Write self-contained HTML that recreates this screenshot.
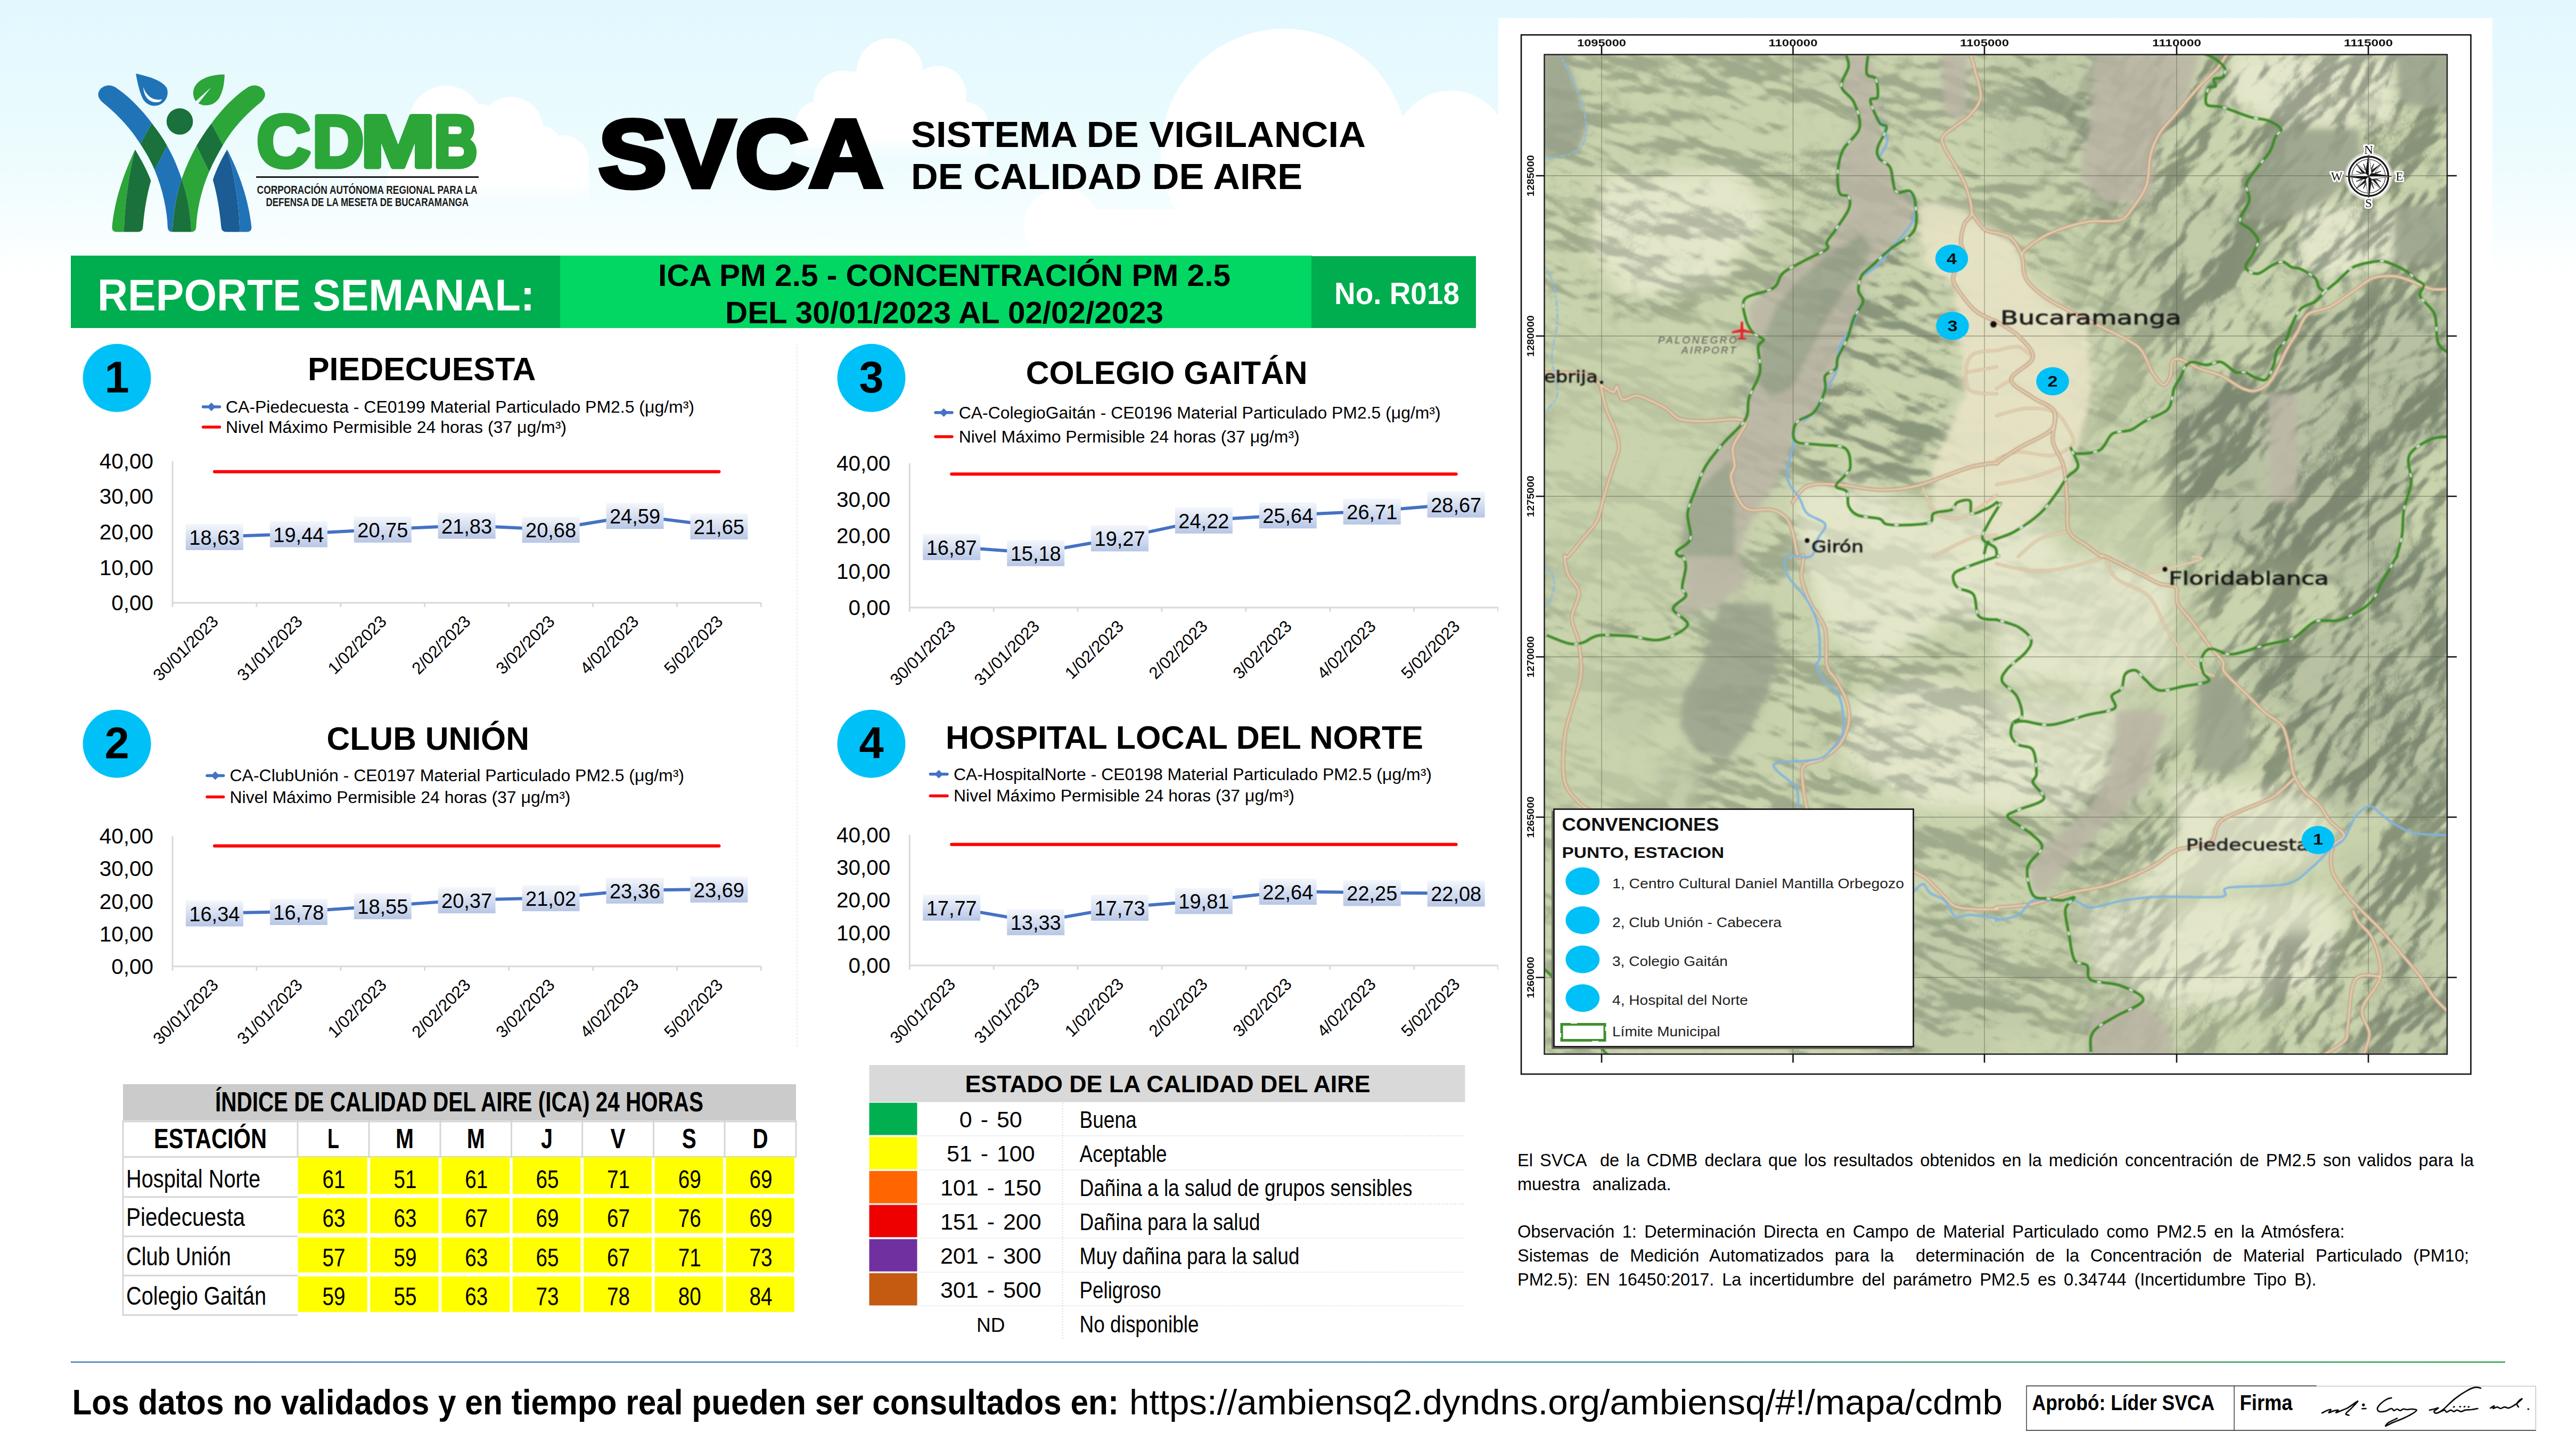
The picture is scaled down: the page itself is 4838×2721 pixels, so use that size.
<!DOCTYPE html>
<html lang="es"><head><meta charset="utf-8"><title>SVCA - Reporte Semanal ICA PM 2.5</title>
<style>
html,body{margin:0;padding:0;background:#fff;}
body{width:4838px;height:2721px;overflow:hidden;}
svg{display:block;font-family:'Liberation Sans', sans-serif;}
</style></head><body>
<svg width="4838" height="2721" viewBox="0 0 4838 2721">
<defs>
<linearGradient id="sky" x1="0" y1="0" x2="0" y2="1"><stop offset="0" stop-color="#e2f8fe"/><stop offset="0.5" stop-color="#ebfbfe"/><stop offset="0.85" stop-color="#f8feff"/><stop offset="1" stop-color="#ffffff"/></linearGradient>
<linearGradient id="cf" x1="0" y1="0" x2="0" y2="1"><stop offset="0" stop-color="#fff" stop-opacity="1"/><stop offset="1" stop-color="#fff" stop-opacity="0"/></linearGradient>
</defs>
<rect x="0" y="0" width="4838" height="520" fill="url(#sky)"/>
<g fill="#fff">
<circle cx="838" cy="231" r="70"/>
<circle cx="960" cy="242" r="60"/>
<circle cx="1057" cy="303" r="49"/>
<circle cx="764" cy="335" r="37"/>
<rect x="727" y="335" width="379" height="12"/><rect x="727" y="346" width="379" height="40" fill="url(#cf)"/>
<polygon points="727,335 764,300 838,231 960,242 1057,256 1106,303 1106,347 727,347"/><circle cx="900" cy="250" r="55"/><circle cx="1010" cy="285" r="50"/>
<circle cx="1671" cy="134" r="62"/>
<circle cx="1582" cy="187" r="54"/>
<circle cx="1761" cy="178" r="54"/>
<circle cx="1537" cy="234" r="44"/>
<circle cx="1814" cy="234" r="42"/>
<rect x="1493" y="232" width="363" height="25"/><rect x="1493" y="256" width="363" height="45" fill="url(#cf)"/>
<rect x="1582" y="134" width="179" height="130"/>
<circle cx="2412" cy="286" r="232"/><circle cx="2725" cy="277" r="107"/><circle cx="1995" cy="425" r="72"/><circle cx="2860" cy="380" r="90"/>
<rect x="1995" y="425" width="420" height="95"/><rect x="2060" y="393" width="360" height="40"/><rect x="2412" y="277" width="500" height="243"/>
</g>
<g transform="translate(100,60) scale(0.3494)">
<path d="M440,632 C380,760 330,900 316,1050 Q316,1075 340,1075 L380,1075 C385,920 405,770 440,632 Z" fill="#2ca539"/>
<path d="M440,632 C405,770 385,920 380,1075 L455,1075 Q480,1075 482,1050 C490,950 505,870 525,800 C505,745 475,690 440,632 Z" fill="#1a713b"/>
<path d="M935,632 C900,690 875,745 858,795 C880,870 895,960 903,1050 Q905,1075 930,1075 L1003,1075 C998,920 975,770 935,632 Z" fill="#1a5c93"/>
<path d="M935,632 C975,770 998,920 1003,1075 L1042,1075 Q1066,1075 1066,1050 C1050,900 1000,760 935,632 Z" fill="#2173b8"/>
<path d="M262,376 C340,440 410,510 468,602 L530,490 C470,410 400,340 330,295 Q290,275 255,305 Q225,340 262,376 Z" fill="#2173b8"/>
<path d="M468,602 C500,650 525,695 545,742 L612,612 C590,570 560,530 530,490 Z" fill="#1a713b"/>
<path d="M545,742 C590,850 612,960 615,1050 Q617,1075 640,1075 C645,980 660,880 690,790 C670,730 645,670 612,612 Z" fill="#2173b8"/>
<path d="M1118,376 C1040,440 970,510 912,608 L850,492 C910,410 980,340 1050,295 Q1090,275 1125,305 Q1155,340 1118,376 Z" fill="#2ca539"/>
<path d="M912,608 C885,655 860,700 838,752 L770,612 C795,570 820,530 850,492 Z" fill="#1a713b"/>
<path d="M838,752 C795,850 772,960 768,1050 Q766,1075 742,1075 C738,980 722,880 690,790 C712,730 738,670 770,612 Z" fill="#2ca539"/>
<path d="M690,790 C660,880 645,980 640,1075 L742,1075 C738,980 722,880 690,790 Z" fill="#1a713b"/>
<circle cx="680" cy="481" r="71" fill="#1a713b"/>
<path d="M444,224 C520,240 585,262 610,300 A68,68 0 1 1 478,352 C462,315 452,270 444,224 Z" fill="#2173b8"/>
<path d="M484,296 C486,335 505,380 560,378 Q580,376 584,362 C540,372 500,345 484,296 Z" fill="#fff"/>
<path d="M921,229 C850,228 780,250 758,300 C748,325 752,352 766,372 L850,296 L780,384 C820,405 870,395 895,350 C915,310 920,270 921,229 Z" fill="#2ca539"/>
</g>
<text x="482.5" y="312.7" font-size="137" font-weight="bold" fill="#2ca539" stroke="#2ca539" stroke-width="9" stroke-linejoin="round" textLength="100.5" lengthAdjust="spacingAndGlyphs">C</text>
<text x="587" y="312.7" font-size="137" font-weight="bold" fill="#2ca539" stroke="#2ca539" stroke-width="9" stroke-linejoin="round" textLength="96" lengthAdjust="spacingAndGlyphs">D</text>
<text x="678" y="312.7" font-size="137" font-weight="bold" fill="#2ca539" stroke="#2ca539" stroke-width="9" stroke-linejoin="round" textLength="139" lengthAdjust="spacingAndGlyphs">M</text>
<text x="815" y="312.7" font-size="137" font-weight="bold" fill="#2ca539" stroke="#2ca539" stroke-width="9" stroke-linejoin="round" textLength="81.5" lengthAdjust="spacingAndGlyphs">B</text>
<rect x="481" y="331" width="418" height="3" fill="#1a1a1a"/>
<text x="482.6" y="364" font-size="22" font-weight="bold" fill="#1a1a1a" textLength="414" lengthAdjust="spacingAndGlyphs">CORPORACIÓN AUTÓNOMA REGIONAL PARA LA</text>
<text x="499.4" y="387" font-size="22" font-weight="bold" fill="#1a1a1a" textLength="380.6" lengthAdjust="spacingAndGlyphs">DEFENSA DE LA MESETA DE BUCARAMANGA</text>
<text x="1124" y="351" font-size="180" font-weight="bold" textLength="534" lengthAdjust="spacingAndGlyphs" stroke="#000" stroke-width="9" stroke-linejoin="miter">SVCA</text>
<text x="1711" y="276" font-size="69" font-weight="bold" textLength="854" lengthAdjust="spacingAndGlyphs">SISTEMA DE VIGILANCIA</text>
<text x="1711" y="355" font-size="69" font-weight="bold" textLength="735" lengthAdjust="spacingAndGlyphs">DE CALIDAD DE AIRE</text>
<rect x="133" y="480" width="920" height="136" fill="#00ad4f"/>
<rect x="1052" y="480" width="1412" height="136" fill="#02d763"/>
<rect x="2463" y="481" width="309" height="135" fill="#00ad4f"/>
<text x="183" y="583" font-size="83" font-weight="bold" fill="#fff" textLength="821" lengthAdjust="spacingAndGlyphs">REPORTE SEMANAL:</text>
<text x="1773.5" y="537" font-size="58" font-weight="bold" text-anchor="middle" textLength="1075" lengthAdjust="spacingAndGlyphs">ICA PM 2.5 - CONCENTRACIÓN PM 2.5</text>
<text x="1773.5" y="607" font-size="58" font-weight="bold" text-anchor="middle" textLength="823" lengthAdjust="spacingAndGlyphs">DEL 30/01/2023 AL 02/02/2023</text>
<text x="2506" y="570.5" font-size="57.5" font-weight="bold" fill="#fff" textLength="235" lengthAdjust="spacingAndGlyphs">No. R018</text>
<defs><linearGradient id="dl" x1="0" y1="0" x2="0" y2="1"><stop offset="0" stop-color="#f4f7fc"/><stop offset="1" stop-color="#b7c6e6"/></linearGradient></defs>
<line x1="1497" y1="645" x2="1497" y2="1965" stroke="#d4d4d4" stroke-width="1" stroke-dasharray="4 3"/>
<circle cx="219.6" cy="709.7" r="64" fill="#00c1f7"/>
<text x="219.6" y="737.2" font-size="83" font-weight="bold" text-anchor="middle">1</text>
<text x="578" y="713.5" font-size="61" font-weight="bold" textLength="428.6" lengthAdjust="spacingAndGlyphs">PIEDECUESTA</text>
<line x1="381.5" y1="764" x2="412.5" y2="764" stroke="#4472c4" stroke-width="5.5" stroke-linecap="round"/>
<path d="M389.0,764 L397.0,756 L405.0,764 L397.0,772 Z" fill="#4472c4"/>
<line x1="381.5" y1="802" x2="412.5" y2="802" stroke="#ff0000" stroke-width="5.5" stroke-linecap="round"/>
<text x="424" y="775" font-size="31" textLength="880" lengthAdjust="spacingAndGlyphs">CA-Piedecuesta - CE0199 Material Particulado PM2.5 (μg/m³)</text>
<text x="424" y="813" font-size="31" textLength="640" lengthAdjust="spacingAndGlyphs">Nivel Máximo Permisible 24 horas (37 μg/m³)</text>
<g stroke="#d9d9d9" stroke-width="3" fill="none">
<path d="M324,865.7 V1140 M322.5,1132 H1429.5"/>
<path d="M481.9,1132 v8 M639.8,1132 v8 M797.7,1132 v8 M955.6,1132 v8 M1113.5,1132 v8 M1271.4,1132 v8 M1429.3,1132 v8 "/>
</g>
<text x="288" y="1146.2" font-size="40.5" text-anchor="end">0,00</text>
<text x="288" y="1079.625" font-size="40.5" text-anchor="end">10,00</text>
<text x="288" y="1013.0500000000001" font-size="40.5" text-anchor="end">20,00</text>
<text x="288" y="946.4750000000001" font-size="40.5" text-anchor="end">30,00</text>
<text x="288" y="879.9000000000001" font-size="40.5" text-anchor="end">40,00</text>
<line x1="402.9" y1="885.7" x2="1350.4" y2="885.7" stroke="#ff0000" stroke-width="6" stroke-linecap="round"/>
<polyline points="402.9,1008.0 560.9,1002.6 718.8,993.9 876.6,986.7 1034.6,994.3 1192.5,968.3 1350.4,987.9" fill="none" stroke="#4472c4" stroke-width="6" stroke-linecap="round" stroke-linejoin="round"/>
<rect x="348.9" y="984.0" width="108" height="49" fill="url(#dl)"/>
<text x="402.9" y="1023.0" font-size="38" text-anchor="middle">18,63</text>
<rect x="506.9" y="978.6" width="108" height="49" fill="url(#dl)"/>
<text x="560.9" y="1017.6" font-size="38" text-anchor="middle">19,44</text>
<rect x="664.8" y="969.9" width="108" height="49" fill="url(#dl)"/>
<text x="718.8" y="1008.9" font-size="38" text-anchor="middle">20,75</text>
<rect x="822.6" y="962.7" width="108" height="49" fill="url(#dl)"/>
<text x="876.6" y="1001.7" font-size="38" text-anchor="middle">21,83</text>
<rect x="980.6" y="970.3" width="108" height="49" fill="url(#dl)"/>
<text x="1034.6" y="1009.3" font-size="38" text-anchor="middle">20,68</text>
<rect x="1138.5" y="944.3" width="108" height="49" fill="url(#dl)"/>
<text x="1192.5" y="983.3" font-size="38" text-anchor="middle">24,59</text>
<rect x="1296.4" y="963.9" width="108" height="49" fill="url(#dl)"/>
<text x="1350.4" y="1002.9" font-size="38" text-anchor="middle">21,65</text>
<text transform="translate(411.9,1169.0) rotate(-45)" font-size="31.5" text-anchor="end">30/01/2023</text>
<text transform="translate(569.9,1169.0) rotate(-45)" font-size="31.5" text-anchor="end">31/01/2023</text>
<text transform="translate(727.8,1169.0) rotate(-45)" font-size="31.5" text-anchor="end">1/02/2023</text>
<text transform="translate(885.6,1169.0) rotate(-45)" font-size="31.5" text-anchor="end">2/02/2023</text>
<text transform="translate(1043.6,1169.0) rotate(-45)" font-size="31.5" text-anchor="end">3/02/2023</text>
<text transform="translate(1201.5,1169.0) rotate(-45)" font-size="31.5" text-anchor="end">4/02/2023</text>
<text transform="translate(1359.4,1169.0) rotate(-45)" font-size="31.5" text-anchor="end">5/02/2023</text>
<circle cx="1636.5" cy="709.7" r="64" fill="#00c1f7"/>
<text x="1636.5" y="737.2" font-size="83" font-weight="bold" text-anchor="middle">3</text>
<text x="1926.8" y="720.5" font-size="61" font-weight="bold" textLength="528.8" lengthAdjust="spacingAndGlyphs">COLEGIO GAITÁN</text>
<line x1="1757" y1="774.8" x2="1788" y2="774.8" stroke="#4472c4" stroke-width="5.5" stroke-linecap="round"/>
<path d="M1764.5,774.8 L1772.5,766.8 L1780.5,774.8 L1772.5,782.8 Z" fill="#4472c4"/>
<line x1="1757" y1="819.9" x2="1788" y2="819.9" stroke="#ff0000" stroke-width="5.5" stroke-linecap="round"/>
<text x="1800.7" y="785.8" font-size="31" textLength="904.9" lengthAdjust="spacingAndGlyphs">CA-ColegioGaitán - CE0196 Material Particulado PM2.5 (μg/m³)</text>
<text x="1800.7" y="830.9" font-size="31" textLength="640" lengthAdjust="spacingAndGlyphs">Nivel Máximo Permisible 24 horas (37 μg/m³)</text>
<g stroke="#d9d9d9" stroke-width="3" fill="none">
<path d="M1708.3,870 V1149 M1706.8,1141 H2813.8"/>
<path d="M1866.2,1141 v8 M2024.1,1141 v8 M2182.0,1141 v8 M2339.9,1141 v8 M2497.8,1141 v8 M2655.7,1141 v8 M2813.6,1141 v8 "/>
</g>
<text x="1672.3" y="1155.2" font-size="40.5" text-anchor="end">0,00</text>
<text x="1672.3" y="1087.45" font-size="40.5" text-anchor="end">10,00</text>
<text x="1672.3" y="1019.7" font-size="40.5" text-anchor="end">20,00</text>
<text x="1672.3" y="951.95" font-size="40.5" text-anchor="end">30,00</text>
<text x="1672.3" y="884.2" font-size="40.5" text-anchor="end">40,00</text>
<line x1="1787.2" y1="890.3" x2="2734.7" y2="890.3" stroke="#ff0000" stroke-width="6" stroke-linecap="round"/>
<polyline points="1787.2,1026.7 1945.2,1038.2 2103.1,1010.4 2260.9,976.9 2418.8,967.3 2576.8,960.0 2734.7,946.8" fill="none" stroke="#4472c4" stroke-width="6" stroke-linecap="round" stroke-linejoin="round"/>
<rect x="1733.2" y="1002.7" width="108" height="49" fill="url(#dl)"/>
<text x="1787.2" y="1041.7" font-size="38" text-anchor="middle">16,87</text>
<rect x="1891.2" y="1014.2" width="108" height="49" fill="url(#dl)"/>
<text x="1945.2" y="1053.2" font-size="38" text-anchor="middle">15,18</text>
<rect x="2049.1" y="986.4" width="108" height="49" fill="url(#dl)"/>
<text x="2103.1" y="1025.4" font-size="38" text-anchor="middle">19,27</text>
<rect x="2206.9" y="952.9" width="108" height="49" fill="url(#dl)"/>
<text x="2260.9" y="991.9" font-size="38" text-anchor="middle">24,22</text>
<rect x="2364.8" y="943.3" width="108" height="49" fill="url(#dl)"/>
<text x="2418.8" y="982.3" font-size="38" text-anchor="middle">25,64</text>
<rect x="2522.8" y="936.0" width="108" height="49" fill="url(#dl)"/>
<text x="2576.8" y="975.0" font-size="38" text-anchor="middle">26,71</text>
<rect x="2680.7" y="922.8" width="108" height="49" fill="url(#dl)"/>
<text x="2734.7" y="961.8" font-size="38" text-anchor="middle">28,67</text>
<text transform="translate(1796.2,1178.0) rotate(-45)" font-size="31.5" text-anchor="end">30/01/2023</text>
<text transform="translate(1954.2,1178.0) rotate(-45)" font-size="31.5" text-anchor="end">31/01/2023</text>
<text transform="translate(2112.1,1178.0) rotate(-45)" font-size="31.5" text-anchor="end">1/02/2023</text>
<text transform="translate(2269.9,1178.0) rotate(-45)" font-size="31.5" text-anchor="end">2/02/2023</text>
<text transform="translate(2427.8,1178.0) rotate(-45)" font-size="31.5" text-anchor="end">3/02/2023</text>
<text transform="translate(2585.8,1178.0) rotate(-45)" font-size="31.5" text-anchor="end">4/02/2023</text>
<text transform="translate(2743.7,1178.0) rotate(-45)" font-size="31.5" text-anchor="end">5/02/2023</text>
<circle cx="219.6" cy="1396.7" r="64" fill="#00c1f7"/>
<text x="219.6" y="1424.2" font-size="83" font-weight="bold" text-anchor="middle">2</text>
<text x="613.6" y="1407.6" font-size="61" font-weight="bold" textLength="380.4" lengthAdjust="spacingAndGlyphs">CLUB UNIÓN</text>
<line x1="389" y1="1456.4" x2="419.6" y2="1456.4" stroke="#4472c4" stroke-width="5.5" stroke-linecap="round"/>
<path d="M396.3,1456.4 L404.3,1448.4 L412.3,1456.4 L404.3,1464.4 Z" fill="#4472c4"/>
<line x1="389" y1="1496.6" x2="419.6" y2="1496.6" stroke="#ff0000" stroke-width="5.5" stroke-linecap="round"/>
<text x="431.5" y="1467.4" font-size="31" textLength="853.5" lengthAdjust="spacingAndGlyphs">CA-ClubUnión - CE0197 Material Particulado PM2.5 (μg/m³)</text>
<text x="431.5" y="1507.6" font-size="31" textLength="640" lengthAdjust="spacingAndGlyphs">Nivel Máximo Permisible 24 horas (37 μg/m³)</text>
<g stroke="#d9d9d9" stroke-width="3" fill="none">
<path d="M324,1570 V1822.7 M322.5,1814.7 H1429.5"/>
<path d="M481.9,1814.7 v8 M639.8,1814.7 v8 M797.7,1814.7 v8 M955.6,1814.7 v8 M1113.5,1814.7 v8 M1271.4,1814.7 v8 M1429.3,1814.7 v8 "/>
</g>
<text x="288" y="1828.9" font-size="40.5" text-anchor="end">0,00</text>
<text x="288" y="1767.7250000000001" font-size="40.5" text-anchor="end">10,00</text>
<text x="288" y="1706.55" font-size="40.5" text-anchor="end">20,00</text>
<text x="288" y="1645.375" font-size="40.5" text-anchor="end">30,00</text>
<text x="288" y="1584.2" font-size="40.5" text-anchor="end">40,00</text>
<line x1="402.9" y1="1588.4" x2="1350.4" y2="1588.4" stroke="#ff0000" stroke-width="6" stroke-linecap="round"/>
<polyline points="402.9,1714.7 560.9,1712.0 718.8,1701.2 876.6,1690.1 1034.6,1686.1 1192.5,1671.8 1350.4,1669.8" fill="none" stroke="#4472c4" stroke-width="6" stroke-linecap="round" stroke-linejoin="round"/>
<rect x="348.9" y="1690.7" width="108" height="49" fill="url(#dl)"/>
<text x="402.9" y="1729.7" font-size="38" text-anchor="middle">16,34</text>
<rect x="506.9" y="1688.0" width="108" height="49" fill="url(#dl)"/>
<text x="560.9" y="1727.0" font-size="38" text-anchor="middle">16,78</text>
<rect x="664.8" y="1677.2" width="108" height="49" fill="url(#dl)"/>
<text x="718.8" y="1716.2" font-size="38" text-anchor="middle">18,55</text>
<rect x="822.6" y="1666.1" width="108" height="49" fill="url(#dl)"/>
<text x="876.6" y="1705.1" font-size="38" text-anchor="middle">20,37</text>
<rect x="980.6" y="1662.1" width="108" height="49" fill="url(#dl)"/>
<text x="1034.6" y="1701.1" font-size="38" text-anchor="middle">21,02</text>
<rect x="1138.5" y="1647.8" width="108" height="49" fill="url(#dl)"/>
<text x="1192.5" y="1686.8" font-size="38" text-anchor="middle">23,36</text>
<rect x="1296.4" y="1645.8" width="108" height="49" fill="url(#dl)"/>
<text x="1350.4" y="1684.8" font-size="38" text-anchor="middle">23,69</text>
<text transform="translate(411.9,1851.7) rotate(-45)" font-size="31.5" text-anchor="end">30/01/2023</text>
<text transform="translate(569.9,1851.7) rotate(-45)" font-size="31.5" text-anchor="end">31/01/2023</text>
<text transform="translate(727.8,1851.7) rotate(-45)" font-size="31.5" text-anchor="end">1/02/2023</text>
<text transform="translate(885.6,1851.7) rotate(-45)" font-size="31.5" text-anchor="end">2/02/2023</text>
<text transform="translate(1043.6,1851.7) rotate(-45)" font-size="31.5" text-anchor="end">3/02/2023</text>
<text transform="translate(1201.5,1851.7) rotate(-45)" font-size="31.5" text-anchor="end">4/02/2023</text>
<text transform="translate(1359.4,1851.7) rotate(-45)" font-size="31.5" text-anchor="end">5/02/2023</text>
<circle cx="1636.5" cy="1396.7" r="64" fill="#00c1f7"/>
<text x="1636.5" y="1424.2" font-size="83" font-weight="bold" text-anchor="middle">4</text>
<text x="1776" y="1406" font-size="61" font-weight="bold" textLength="897" lengthAdjust="spacingAndGlyphs">HOSPITAL LOCAL DEL NORTE</text>
<line x1="1747.4" y1="1453.7" x2="1779" y2="1453.7" stroke="#4472c4" stroke-width="5.5" stroke-linecap="round"/>
<path d="M1755.2,1453.7 L1763.2,1445.7 L1771.2,1453.7 L1763.2,1461.7 Z" fill="#4472c4"/>
<line x1="1747.4" y1="1494.4" x2="1779" y2="1494.4" stroke="#ff0000" stroke-width="5.5" stroke-linecap="round"/>
<text x="1791" y="1464.7" font-size="31" textLength="898" lengthAdjust="spacingAndGlyphs">CA-HospitalNorte - CE0198 Material Particulado PM2.5 (μg/m³)</text>
<text x="1791" y="1505.4" font-size="31" textLength="640" lengthAdjust="spacingAndGlyphs">Nivel Máximo Permisible 24 horas (37 μg/m³)</text>
<g stroke="#d9d9d9" stroke-width="3" fill="none">
<path d="M1708.3,1567.4 V1821 M1706.8,1813 H2813.8"/>
<path d="M1866.2,1813 v8 M2024.1,1813 v8 M2182.0,1813 v8 M2339.9,1813 v8 M2497.8,1813 v8 M2655.7,1813 v8 M2813.6,1813 v8 "/>
</g>
<text x="1672.3" y="1827.2" font-size="40.5" text-anchor="end">0,00</text>
<text x="1672.3" y="1765.8" font-size="40.5" text-anchor="end">10,00</text>
<text x="1672.3" y="1704.4" font-size="40.5" text-anchor="end">20,00</text>
<text x="1672.3" y="1643.0000000000002" font-size="40.5" text-anchor="end">30,00</text>
<text x="1672.3" y="1581.6000000000001" font-size="40.5" text-anchor="end">40,00</text>
<line x1="1787.2" y1="1585.8" x2="2734.7" y2="1585.8" stroke="#ff0000" stroke-width="6" stroke-linecap="round"/>
<polyline points="1787.2,1703.9 1945.2,1731.2 2103.1,1704.1 2260.9,1691.4 2418.8,1674.0 2576.8,1676.4 2734.7,1677.4" fill="none" stroke="#4472c4" stroke-width="6" stroke-linecap="round" stroke-linejoin="round"/>
<rect x="1733.2" y="1679.9" width="108" height="49" fill="url(#dl)"/>
<text x="1787.2" y="1718.9" font-size="38" text-anchor="middle">17,77</text>
<rect x="1891.2" y="1707.2" width="108" height="49" fill="url(#dl)"/>
<text x="1945.2" y="1746.2" font-size="38" text-anchor="middle">13,33</text>
<rect x="2049.1" y="1680.1" width="108" height="49" fill="url(#dl)"/>
<text x="2103.1" y="1719.1" font-size="38" text-anchor="middle">17,73</text>
<rect x="2206.9" y="1667.4" width="108" height="49" fill="url(#dl)"/>
<text x="2260.9" y="1706.4" font-size="38" text-anchor="middle">19,81</text>
<rect x="2364.8" y="1650.0" width="108" height="49" fill="url(#dl)"/>
<text x="2418.8" y="1689.0" font-size="38" text-anchor="middle">22,64</text>
<rect x="2522.8" y="1652.4" width="108" height="49" fill="url(#dl)"/>
<text x="2576.8" y="1691.4" font-size="38" text-anchor="middle">22,25</text>
<rect x="2680.7" y="1653.4" width="108" height="49" fill="url(#dl)"/>
<text x="2734.7" y="1692.4" font-size="38" text-anchor="middle">22,08</text>
<text transform="translate(1796.2,1850.0) rotate(-45)" font-size="31.5" text-anchor="end">30/01/2023</text>
<text transform="translate(1954.2,1850.0) rotate(-45)" font-size="31.5" text-anchor="end">31/01/2023</text>
<text transform="translate(2112.1,1850.0) rotate(-45)" font-size="31.5" text-anchor="end">1/02/2023</text>
<text transform="translate(2269.9,1850.0) rotate(-45)" font-size="31.5" text-anchor="end">2/02/2023</text>
<text transform="translate(2427.8,1850.0) rotate(-45)" font-size="31.5" text-anchor="end">3/02/2023</text>
<text transform="translate(2585.8,1850.0) rotate(-45)" font-size="31.5" text-anchor="end">4/02/2023</text>
<text transform="translate(2743.7,1850.0) rotate(-45)" font-size="31.5" text-anchor="end">5/02/2023</text>
<rect x="231" y="2036" width="1264" height="68" fill="#cbcbcb"/>
<text x="862.5" y="2087" font-size="52" font-weight="bold" text-anchor="middle" textLength="917" lengthAdjust="spacingAndGlyphs">ÍNDICE DE CALIDAD DEL AIRE (ICA) 24 HORAS</text>
<g stroke="#d6d6d6" stroke-width="3" fill="none">
<path d="M231,2106 H1495 M231,2172.5 H1495"/>
<path d="M231,2104 V2172 M559,2104 V2172 M693,2104 V2172 M827,2104 V2172 M960.5,2104 V2172 M1093.7,2104 V2172 M1227.4,2104 V2172 M1361,2104 V2172 M1495,2104 V2172 "/>
<path d="M231,2172 V2470 M231,2247.7 H559 M231,2321.8 H559 M231,2395.2 H559 M229.5,2469.6 H559"/>
</g>
<text x="395" y="2156" font-size="52" font-weight="bold" text-anchor="middle" textLength="212" lengthAdjust="spacingAndGlyphs">ESTACIÓN</text>
<text x="626.0" y="2156" font-size="52" font-weight="bold" text-anchor="middle" textLength="22" lengthAdjust="spacingAndGlyphs">L</text>
<text x="760.0" y="2156" font-size="52" font-weight="bold" text-anchor="middle" textLength="34" lengthAdjust="spacingAndGlyphs">M</text>
<text x="893.75" y="2156" font-size="52" font-weight="bold" text-anchor="middle" textLength="34" lengthAdjust="spacingAndGlyphs">M</text>
<text x="1027.1" y="2156" font-size="52" font-weight="bold" text-anchor="middle" textLength="22" lengthAdjust="spacingAndGlyphs">J</text>
<text x="1160.5500000000002" y="2156" font-size="52" font-weight="bold" text-anchor="middle" textLength="28" lengthAdjust="spacingAndGlyphs">V</text>
<text x="1294.2" y="2156" font-size="52" font-weight="bold" text-anchor="middle" textLength="27" lengthAdjust="spacingAndGlyphs">S</text>
<text x="1428.0" y="2156" font-size="52" font-weight="bold" text-anchor="middle" textLength="29" lengthAdjust="spacingAndGlyphs">D</text>
<text x="237" y="2229.5" font-size="48" textLength="252" lengthAdjust="spacingAndGlyphs">Hospital Norte</text>
<rect x="559.5" y="2172.7" width="130.3" height="69.5" fill="#ffff00"/>
<text x="627.0" y="2231.0" font-size="49" text-anchor="middle" textLength="43" lengthAdjust="spacingAndGlyphs">61</text>
<rect x="695.3" y="2172.7" width="128.5" height="69.5" fill="#ffff00"/>
<text x="761.0" y="2231.0" font-size="49" text-anchor="middle" textLength="43" lengthAdjust="spacingAndGlyphs">51</text>
<rect x="829.3" y="2172.7" width="128.0" height="69.5" fill="#ffff00"/>
<text x="894.75" y="2231.0" font-size="49" text-anchor="middle" textLength="43" lengthAdjust="spacingAndGlyphs">61</text>
<rect x="962.8" y="2172.7" width="127.7" height="69.5" fill="#ffff00"/>
<text x="1028.1" y="2231.0" font-size="49" text-anchor="middle" textLength="43" lengthAdjust="spacingAndGlyphs">65</text>
<rect x="1096.0" y="2172.7" width="128.2" height="69.5" fill="#ffff00"/>
<text x="1161.5500000000002" y="2231.0" font-size="49" text-anchor="middle" textLength="43" lengthAdjust="spacingAndGlyphs">71</text>
<rect x="1229.7" y="2172.7" width="128.1" height="69.5" fill="#ffff00"/>
<text x="1295.2" y="2231.0" font-size="49" text-anchor="middle" textLength="43" lengthAdjust="spacingAndGlyphs">69</text>
<rect x="1363.3" y="2172.7" width="128.5" height="69.5" fill="#ffff00"/>
<text x="1429.0" y="2231.0" font-size="49" text-anchor="middle" textLength="43" lengthAdjust="spacingAndGlyphs">69</text>
<text x="237" y="2302" font-size="48" textLength="223" lengthAdjust="spacingAndGlyphs">Piedecuesta</text>
<rect x="559.5" y="2249.6" width="130.3" height="66" fill="#ffff00"/>
<text x="627.0" y="2303.5" font-size="49" text-anchor="middle" textLength="43" lengthAdjust="spacingAndGlyphs">63</text>
<rect x="695.3" y="2249.6" width="128.5" height="66" fill="#ffff00"/>
<text x="761.0" y="2303.5" font-size="49" text-anchor="middle" textLength="43" lengthAdjust="spacingAndGlyphs">63</text>
<rect x="829.3" y="2249.6" width="128.0" height="66" fill="#ffff00"/>
<text x="894.75" y="2303.5" font-size="49" text-anchor="middle" textLength="43" lengthAdjust="spacingAndGlyphs">67</text>
<rect x="962.8" y="2249.6" width="127.7" height="66" fill="#ffff00"/>
<text x="1028.1" y="2303.5" font-size="49" text-anchor="middle" textLength="43" lengthAdjust="spacingAndGlyphs">69</text>
<rect x="1096.0" y="2249.6" width="128.2" height="66" fill="#ffff00"/>
<text x="1161.5500000000002" y="2303.5" font-size="49" text-anchor="middle" textLength="43" lengthAdjust="spacingAndGlyphs">67</text>
<rect x="1229.7" y="2249.6" width="128.1" height="66" fill="#ffff00"/>
<text x="1295.2" y="2303.5" font-size="49" text-anchor="middle" textLength="43" lengthAdjust="spacingAndGlyphs">76</text>
<rect x="1363.3" y="2249.6" width="128.5" height="66" fill="#ffff00"/>
<text x="1429.0" y="2303.5" font-size="49" text-anchor="middle" textLength="43" lengthAdjust="spacingAndGlyphs">69</text>
<text x="237" y="2376" font-size="48" textLength="197" lengthAdjust="spacingAndGlyphs">Club Unión</text>
<rect x="559.5" y="2323.7" width="130.3" height="65.8" fill="#ffff00"/>
<text x="627.0" y="2377.5" font-size="49" text-anchor="middle" textLength="43" lengthAdjust="spacingAndGlyphs">57</text>
<rect x="695.3" y="2323.7" width="128.5" height="65.8" fill="#ffff00"/>
<text x="761.0" y="2377.5" font-size="49" text-anchor="middle" textLength="43" lengthAdjust="spacingAndGlyphs">59</text>
<rect x="829.3" y="2323.7" width="128.0" height="65.8" fill="#ffff00"/>
<text x="894.75" y="2377.5" font-size="49" text-anchor="middle" textLength="43" lengthAdjust="spacingAndGlyphs">63</text>
<rect x="962.8" y="2323.7" width="127.7" height="65.8" fill="#ffff00"/>
<text x="1028.1" y="2377.5" font-size="49" text-anchor="middle" textLength="43" lengthAdjust="spacingAndGlyphs">65</text>
<rect x="1096.0" y="2323.7" width="128.2" height="65.8" fill="#ffff00"/>
<text x="1161.5500000000002" y="2377.5" font-size="49" text-anchor="middle" textLength="43" lengthAdjust="spacingAndGlyphs">67</text>
<rect x="1229.7" y="2323.7" width="128.1" height="65.8" fill="#ffff00"/>
<text x="1295.2" y="2377.5" font-size="49" text-anchor="middle" textLength="43" lengthAdjust="spacingAndGlyphs">71</text>
<rect x="1363.3" y="2323.7" width="128.5" height="65.8" fill="#ffff00"/>
<text x="1429.0" y="2377.5" font-size="49" text-anchor="middle" textLength="43" lengthAdjust="spacingAndGlyphs">73</text>
<text x="237" y="2449.5" font-size="48" textLength="263" lengthAdjust="spacingAndGlyphs">Colegio Gaitán</text>
<rect x="559.5" y="2397.1" width="130.3" height="66.6" fill="#ffff00"/>
<text x="627.0" y="2451.0" font-size="49" text-anchor="middle" textLength="43" lengthAdjust="spacingAndGlyphs">59</text>
<rect x="695.3" y="2397.1" width="128.5" height="66.6" fill="#ffff00"/>
<text x="761.0" y="2451.0" font-size="49" text-anchor="middle" textLength="43" lengthAdjust="spacingAndGlyphs">55</text>
<rect x="829.3" y="2397.1" width="128.0" height="66.6" fill="#ffff00"/>
<text x="894.75" y="2451.0" font-size="49" text-anchor="middle" textLength="43" lengthAdjust="spacingAndGlyphs">63</text>
<rect x="962.8" y="2397.1" width="127.7" height="66.6" fill="#ffff00"/>
<text x="1028.1" y="2451.0" font-size="49" text-anchor="middle" textLength="43" lengthAdjust="spacingAndGlyphs">73</text>
<rect x="1096.0" y="2397.1" width="128.2" height="66.6" fill="#ffff00"/>
<text x="1161.5500000000002" y="2451.0" font-size="49" text-anchor="middle" textLength="43" lengthAdjust="spacingAndGlyphs">78</text>
<rect x="1229.7" y="2397.1" width="128.1" height="66.6" fill="#ffff00"/>
<text x="1295.2" y="2451.0" font-size="49" text-anchor="middle" textLength="43" lengthAdjust="spacingAndGlyphs">80</text>
<rect x="1363.3" y="2397.1" width="128.5" height="66.6" fill="#ffff00"/>
<text x="1429.0" y="2451.0" font-size="49" text-anchor="middle" textLength="43" lengthAdjust="spacingAndGlyphs">84</text>
<rect x="1632.5" y="2000" width="1119" height="69.5" fill="#d9d9d9"/>
<text x="2193" y="2051" font-size="45" font-weight="bold" text-anchor="middle" textLength="761" lengthAdjust="spacingAndGlyphs">ESTADO DE LA CALIDAD DEL AIRE</text>
<g stroke="#d0d0d0" stroke-width="1.2" stroke-dasharray="2.5 2.5">
<path d="M1996,2071 V2516"/>
<path d="M1632,2132.8 H2751"/>
<path d="M1632,2197 H2751"/>
<path d="M1632,2260.9 H2751"/>
<path d="M1632,2325 H2751"/>
<path d="M1632,2389 H2751"/>
<path d="M1632,2452 H2751"/>
</g>
<rect x="1632.5" y="2070.8" width="90" height="60.5" fill="#00b050"/>
<text x="1860.8" y="2116.8" font-size="43" text-anchor="middle" word-spacing="4">0 - 50</text>
<text x="2027.6" y="2117.8" font-size="43.5" textLength="107" lengthAdjust="spacingAndGlyphs">Buena</text>
<rect x="1632.5" y="2135" width="90" height="60.5" fill="#ffff00"/>
<text x="1860.8" y="2181" font-size="43" text-anchor="middle" word-spacing="4">51 - 100</text>
<text x="2027.6" y="2182" font-size="43.5" textLength="164" lengthAdjust="spacingAndGlyphs">Aceptable</text>
<rect x="1632.5" y="2199" width="90" height="60.5" fill="#ff6600"/>
<text x="1860.8" y="2245" font-size="43" text-anchor="middle" word-spacing="4">101 - 150</text>
<text x="2027.6" y="2246" font-size="43.5" textLength="625" lengthAdjust="spacingAndGlyphs">Dañina a la salud de grupos sensibles</text>
<rect x="1632.5" y="2262.7" width="90" height="60.5" fill="#ee0000"/>
<text x="1860.8" y="2308.7" font-size="43" text-anchor="middle" word-spacing="4">151 - 200</text>
<text x="2027.6" y="2309.7" font-size="43.5" textLength="339" lengthAdjust="spacingAndGlyphs">Dañina para la salud</text>
<rect x="1632.5" y="2327" width="90" height="60.5" fill="#7030a0"/>
<text x="1860.8" y="2373" font-size="43" text-anchor="middle" word-spacing="4">201 - 300</text>
<text x="2027.6" y="2374" font-size="43.5" textLength="413" lengthAdjust="spacingAndGlyphs">Muy dañina para la salud</text>
<rect x="1632.5" y="2390.8" width="90" height="60.5" fill="#c55a11"/>
<text x="1860.8" y="2436.8" font-size="43" text-anchor="middle" word-spacing="4">301 - 500</text>
<text x="2027.6" y="2437.8" font-size="43.5" textLength="153" lengthAdjust="spacingAndGlyphs">Peligroso</text>
<text x="1860.8" y="2501" font-size="37" text-anchor="middle" word-spacing="4">ND</text>
<text x="2027.6" y="2502" font-size="43.5" textLength="224" lengthAdjust="spacingAndGlyphs">No disponible</text>
<text x="2850" y="2189.6" font-size="32.5" word-spacing="4.08" xml:space="preserve">El SVCA  de la CDMB declara que los resultados obtenidos en la medición concentración de PM2.5 son validos para la</text>
<text x="2850" y="2234.6" font-size="32.5" word-spacing="2.48" xml:space="preserve">muestra  analizada.</text>
<text x="2850" y="2324" font-size="32.5" word-spacing="5.29" xml:space="preserve">Observación 1: Determinación Directa en Campo de Material Particulado como PM2.5 en la Atmósfera:</text>
<text x="2850" y="2369" font-size="32.5" word-spacing="11.64" xml:space="preserve">Sistemas de Medición Automatizados para la  determinación de la Concentración de Material Particulado (PM10;</text>
<text x="2850" y="2414" font-size="32.5" word-spacing="5.82" xml:space="preserve">PM2.5): EN 16450:2017. La incertidumbre del parámetro PM2.5 es 0.34744 (Incertidumbre Tipo B).</text>
<defs><linearGradient id="fl" x1="0" y1="0" x2="1" y2="0"><stop offset="0" stop-color="#4f81bd"/><stop offset="0.55" stop-color="#4f8fb0"/><stop offset="1" stop-color="#3aa655"/></linearGradient></defs>
<rect x="133" y="2556.5" width="4572" height="2.6" fill="url(#fl)"/>
<text x="135.4" y="2655.6" font-size="66" font-weight="bold" textLength="1965.6" lengthAdjust="spacingAndGlyphs">Los datos no validados y en tiempo real pueden ser consultados en:</text>
<text x="2121" y="2655.6" font-size="66" textLength="1640" lengthAdjust="spacingAndGlyphs">https://ambiensq2.dyndns.org/ambiensq/#!/mapa/cdmb</text>
<rect x="4350.6" y="2598" width="412" height="88" fill="#fff"/>
<path d="M3806,2686 V2602.5 H4350.6 M4196,2602.5 V2686 M3805,2686 H4763" stroke="#222" stroke-width="1.3" fill="none"/>
<path d="M4350.6,2603 H4762.5 V2686" stroke="#aaa" stroke-width="1" fill="none"/>
<text x="3816.6" y="2648.4" font-size="40" font-weight="bold" textLength="342.4" lengthAdjust="spacingAndGlyphs">Aprobó: Líder SVCA</text>
<text x="4206.6" y="2648.4" font-size="40" font-weight="bold" textLength="99" lengthAdjust="spacingAndGlyphs">Firma</text>
<path d="M4361.1,2653.4 C4362.6,2652.6 4367.1,2650.0 4369.9,2648.9 C4372.6,2647.8 4377.0,2646.3 4377.6,2647.0 C4378.3,2647.6 4373.1,2652.3 4373.8,2652.8 C4374.4,2653.3 4378.6,2650.7 4381.5,2649.9 C4384.4,2649.1 4390.3,2647.4 4391.2,2647.9 C4392.2,2648.4 4386.4,2652.6 4387.3,2652.8 C4388.3,2652.9 4393.5,2650.4 4397.1,2648.9 C4400.6,2647.4 4404.8,2646.2 4408.7,2644.1 C4412.6,2642.0 4417.1,2638.4 4420.3,2636.3 C4423.6,2634.2 4428.8,2630.1 4428.1,2631.4 C4427.5,2632.7 4420.2,2640.2 4416.5,2644.1 C4412.7,2647.9 4406.6,2652.5 4405.8,2654.7 C4405.0,2657.0 4410.6,2657.2 4411.6,2657.6 M4437.2,2638.2 C4437.5,2638.0 4438.3,2636.7 4438.8,2636.7 C4439.3,2636.7 4440.3,2637.7 4440.3,2638.2 C4440.3,2638.7 4439.3,2639.8 4438.8,2639.8 C4438.3,2639.8 4437.5,2638.5 4437.2,2638.2 M4436.5,2645.4 L4443.6,2645.0 M4491.2,2625.0 C4489.7,2625.5 4485.9,2625.7 4482.5,2627.6 C4479.1,2629.4 4473.7,2633.4 4470.8,2636.3 C4467.9,2639.2 4465.3,2642.6 4465.0,2645.0 C4464.7,2647.4 4466.3,2650.0 4468.9,2650.8 C4471.5,2651.7 4477.6,2650.5 4480.5,2649.9 C4483.4,2649.2 4484.4,2647.8 4486.3,2647.0 C4488.3,2646.2 4490.5,2644.7 4492.2,2645.0 C4493.8,2645.3 4494.4,2648.7 4496.0,2648.9 C4497.7,2649.1 4499.9,2646.0 4501.9,2646.0 C4503.8,2646.0 4505.7,2648.9 4507.7,2648.9 C4509.6,2648.9 4511.2,2646.3 4513.5,2646.0 C4515.8,2645.7 4518.7,2647.0 4521.3,2647.0 C4523.9,2647.0 4526.1,2645.8 4529.0,2646.0 C4531.9,2646.2 4538.7,2646.3 4538.7,2647.9 C4538.7,2649.6 4533.2,2653.1 4529.0,2655.7 C4524.8,2658.3 4519.3,2660.9 4513.5,2663.5 C4507.7,2666.1 4499.6,2668.8 4494.1,2671.2 C4488.6,2673.7 4481.8,2678.0 4480.5,2678.0 C4479.2,2678.0 4482.8,2673.7 4486.3,2671.2 C4489.9,2668.8 4499.3,2664.8 4501.9,2663.5 M4563.0,2647.9 C4564.5,2647.6 4569.0,2646.6 4571.7,2646.0 C4574.5,2645.3 4579.5,2643.4 4579.5,2644.1 C4579.5,2644.7 4572.4,2648.3 4571.7,2649.9 C4571.1,2651.5 4573.0,2654.1 4575.6,2653.8 C4578.2,2653.4 4581.4,2652.5 4587.3,2647.9 C4593.1,2643.4 4602.8,2632.7 4610.6,2626.6 C4618.3,2620.4 4627.4,2614.6 4633.9,2611.1 C4640.3,2607.5 4645.2,2605.9 4649.4,2605.2 C4653.6,2604.5 4657.5,2606.5 4659.1,2606.8 M4579.5,2652.8 C4581.4,2652.0 4588.6,2648.1 4591.1,2647.9 C4593.7,2647.8 4593.1,2651.8 4595.0,2651.8 C4597.0,2651.8 4600.5,2648.1 4602.8,2647.9 C4605.1,2647.8 4606.7,2650.8 4608.6,2650.8 C4610.6,2650.8 4612.2,2647.9 4614.4,2647.9 C4616.7,2647.9 4619.6,2650.8 4622.2,2650.8 C4624.8,2650.8 4626.7,2648.6 4630.0,2647.9 C4633.2,2647.3 4637.7,2647.4 4641.6,2647.0 C4645.5,2646.5 4651.3,2645.3 4653.3,2645.0 M4608.2,2642.1 L4609.4,2641.7 M4619.9,2641.7 L4621.0,2641.3 M4628.0,2641.7 L4629.2,2641.3 M4635.8,2642.1 L4637.0,2641.7 M4677.5,2644.1 C4678.7,2643.4 4683.5,2640.0 4684.3,2640.2 C4685.1,2640.3 4681.4,2644.7 4682.4,2645.0 C4683.3,2645.3 4687.9,2642.1 4690.1,2642.1 C4692.4,2642.1 4693.7,2645.0 4696.0,2645.0 C4698.2,2645.0 4701.1,2642.3 4703.7,2642.1 C4706.3,2642.0 4708.3,2644.7 4711.5,2644.1 C4714.7,2643.4 4719.6,2640.5 4723.1,2638.2 C4726.7,2636.0 4730.6,2632.4 4732.8,2630.5 C4735.1,2628.5 4736.9,2626.7 4736.7,2626.6 C4736.6,2626.4 4733.5,2627.9 4731.9,2629.5 C4730.3,2631.1 4727.3,2634.2 4727.0,2636.3 C4726.7,2638.4 4729.4,2641.1 4729.9,2642.1 M4747.8,2646.0 L4749.0,2646.2" fill="none" stroke="#0a0a0a" stroke-width="2.7" stroke-linecap="round" stroke-linejoin="round"/>
<rect x="2814" y="34" width="1867" height="2010" fill="#fff"/>
<defs>
<clipPath id="mapclip"><rect x="2900.5" y="102.5" width="1695.5" height="1877.0"/></clipPath>
<filter id="blur18" x="-5%" y="-5%" width="110%" height="110%"><feGaussianBlur stdDeviation="14"/></filter>
<filter id="hill" x="0" y="0" width="100%" height="100%" color-interpolation-filters="sRGB">
<feTurbulence type="fractalNoise" baseFrequency="0.0042 0.0085" numOctaves="4" seed="11" result="n"/>
<feColorMatrix in="n" type="matrix" values="0 0 0 0 0  0 0 0 0 0  0 0 0 0 0  1.5 0 0 0 -0.25" result="h"/>
<feDiffuseLighting in="h" surfaceScale="58" diffuseConstant="1" lighting-color="#fff" result="l"><feDistantLight azimuth="225" elevation="50"/></feDiffuseLighting>
<feComponentTransfer in="l" result="t"><feFuncR type="table" tableValues="0.69 0.69 0.70 0.73 0.78 0.85 0.91 0.97 1 1 1"/><feFuncG type="table" tableValues="0.71 0.71 0.72 0.75 0.80 0.86 0.92 0.975 1 1 1"/><feFuncB type="table" tableValues="0.71 0.71 0.72 0.75 0.80 0.86 0.92 0.975 1 1 1"/></feComponentTransfer>
<feGaussianBlur in="t" stdDeviation="1.4"/>
</filter>
<filter id="hill2" x="0" y="0" width="100%" height="100%" color-interpolation-filters="sRGB">
<feTurbulence type="fractalNoise" baseFrequency="0.0042 0.0085" numOctaves="4" seed="5" result="n"/>
<feColorMatrix in="n" type="matrix" values="0 0 0 0 0  0 0 0 0 0  0 0 0 0 0  1.5 0 0 0 -0.25" result="h"/>
<feDiffuseLighting in="h" surfaceScale="64" diffuseConstant="1" lighting-color="#fff" result="l"><feDistantLight azimuth="225" elevation="50"/></feDiffuseLighting>
<feComponentTransfer in="l" result="t"><feFuncR type="table" tableValues="0.68 0.68 0.69 0.71 0.75 0.81 0.88 0.95 1 1 1"/><feFuncG type="table" tableValues="0.70 0.70 0.71 0.73 0.77 0.83 0.89 0.955 1 1 1"/><feFuncB type="table" tableValues="0.70 0.70 0.71 0.73 0.77 0.83 0.89 0.955 1 1 1"/></feComponentTransfer>
<feGaussianBlur in="t" stdDeviation="1.4"/>
</filter>
<filter id="blur5" x="-5%" y="-5%" width="110%" height="110%"><feGaussianBlur stdDeviation="5"/></filter>
<filter id="soft" x="-2%" y="-2%" width="104%" height="104%"><feGaussianBlur stdDeviation="0.9"/></filter>
</defs>
<g clip-path="url(#mapclip)">
<rect x="2900.5" y="102.5" width="1695.5" height="1877.0" fill="#c9d3ad"/>
<g filter="url(#blur18)">
<polygon points="3465.1,97.4 3471.9,124.6 3458.3,162.0 3482.1,192.5 3492.3,240.1 3461.7,280.9 3451.5,321.7 3454.9,362.5 3471.9,393.1 3448.1,430.4 3431.1,467.8 3393.8,486.9 3349.6,512.0 3319.0,546.0 3285.0,576.6 3291.8,624.2 3312.2,637.7 3305.4,698.9 3285.0,746.5 3278.2,787.3 3237.4,831.5 3203.4,875.6 3183.1,923.2 3169.5,964.0 3174.9,1011.6 3149.1,1044.9 3161.3,1045.0 3166.1,1119.8 3149.1,1153.8 3230.6,1133.4 3285.0,1085.8 3264.6,1045.0 3271.4,1011.6 3298.6,957.2 3332.6,909.6 3356.4,862.0 3372.0,807.7 3407.4,773.7 3427.7,732.9 3448.1,692.1 3468.5,637.7 3482.1,597.0 3499.1,566.4 3490.3,546.0 3512.7,501.8 3550.1,467.8 3587.5,427.0 3594.3,386.3 3560.3,359.1 3550.1,314.9 3529.7,297.9 3529.7,229.9 3522.9,148.4 3509.3,97.4" fill="#c0c2ac"/>
<polygon points="3495.7,440.6 3448.1,467.8 3380.2,522.2 3336.0,576.6 3305.4,651.3 3298.6,712.5 3325.8,746.5 3366.6,726.1 3393.8,671.7 3427.7,603.8 3461.7,549.4 3495.7,508.6 3512.7,467.8" fill="#b8c2a2"/>
<polygon points="3176.3,930.0 3251.0,862.0 3257.8,943.6 3257.8,1044.9 3152.5,1044.9" fill="#b8c2a2"/>
<polygon points="2897.6,97.4 2938.4,97.4 2965.5,182.3 2979.1,236.7 2965.5,277.5 2897.6,294.5" fill="#b8c2a2"/>
<polygon points="3393.8,97.4 3427.7,97.4 3427.7,168.8 3400.6,175.5" fill="#c2cca9"/>
<polygon points="3645.2,97.4 3692.8,97.4 3692.8,223.1 3652.0,216.3" fill="#c0c2ac"/>
<polygon points="3230.6,1133.4 3325.8,1133.4 3339.4,1214.9 3319.0,1303.3 3285.0,1371.3 3244.2,1425.6 3189.8,1412.0 3155.9,1364.5 3162.7,1303.3 3203.4,1235.3" fill="#b8c2a2"/>
<polygon points="3108.3,1425.6 3203.4,1425.6 3230.6,1480.0 3189.8,1520.8 3108.3,1520.8" fill="#c2cca9"/>
<polygon points="3019.9,1248.9 3135.5,1214.9 3149.1,1316.9 3074.3,1398.4 3006.3,1371.3" fill="#c2cca9"/>
<polygon points="3933.5,97.4 4130.6,97.4 4103.4,195.9 4049.1,263.9 4035.5,379.5 3953.9,379.5 3906.3,331.9 3926.7,229.9" fill="#c0c2ac"/>
<polygon points="4266.6,243.5 4429.7,243.5 4429.7,318.3 4361.7,379.5 4293.8,413.4 4225.8,413.4 4219.0,345.5" fill="#b8c2a2"/>
<polygon points="4497.7,97.4 4603.0,97.4 4603.0,202.7 4511.3,195.9" fill="#b8c2a2"/>
<polygon points="4497.7,386.3 4603.0,386.3 4603.0,495.0 4497.7,495.0" fill="#b8c2a2"/>
<polygon points="3750.0,97.4 3933.5,97.4 3926.7,229.9 3852.0,331.9 3750.0,365.9" fill="#c2cca9"/>
<polygon points="4042.3,386.3 4219.0,345.5 4225.8,467.8 4185.0,576.6 4103.4,671.7 4021.9,644.5 3953.9,576.6 4008.3,467.8" fill="#c2cca9"/>
<polygon points="4089.8,698.9 4266.6,726.1 4334.5,603.8 4429.7,563.0 4603.0,549.4 4603.0,814.5 4524.9,855.2 4511.3,1044.9 4157.8,1044.9 4055.9,807.7" fill="#b8c2a2"/>
<polygon points="4259.8,739.7 4314.2,739.7 4314.2,943.6 4266.6,943.6" fill="#c0c2ac"/>
<polygon points="3974.3,1337.3 4021.9,1333.9 4069.5,1344.1 4049.1,1398.4 4035.5,1466.4 3987.9,1520.8 3940.3,1561.6 3885.9,1622.7 3838.4,1677.1 3818.0,1670.3 3814.6,1629.5 3838.4,1588.8 3913.1,1534.4 3960.7,1452.8 3974.3,1384.8" fill="#c0c2ac"/>
<polygon points="4130.6,1282.9 4171.4,1269.3 4225.8,1330.5 4219.0,1384.8 4225.8,1425.6 4185.0,1452.8 4137.4,1446.0 4117.0,1398.4 4130.6,1344.1" fill="#b8c2a2"/>
<polygon points="4314.2,1045.0 4603.0,1045.0 4603.0,1520.8 4497.7,1534.4 4450.1,1507.2 4402.5,1548.0 4361.7,1493.6 4314.2,1425.6 4293.8,1344.1 4225.8,1282.9 4185.0,1228.5 4307.4,1197.9 4395.7,1163.9 4450.1,1133.4" fill="#b8c2a2"/>
<polygon points="4395.7,1588.8 4603.0,1575.2 4603.0,1986.4 4429.7,1986.4 4456.9,1792.7 4402.5,1690.7" fill="#c2cca9"/>
<polygon points="3926.7,1901.4 4021.9,1881.0 4076.3,1928.6 4069.5,1986.4 3926.7,1986.4" fill="#c0c2ac"/>
<polygon points="3750.0,1847.0 3824.8,1847.0 3838.4,1928.6 3750.0,1949.0" fill="#c2cca9"/>
<polygon points="3597.7,1711.1 3749.9,1738.3 3749.9,1986.4 3597.7,1986.4" fill="#c2cca9"/>
<polygon points="3601.1,386.3 3631.7,379.5 3692.8,399.8 3749.9,440.6 3777.2,454.2 3811.2,535.8 3919.9,603.8 3926.7,739.7 3899.5,848.5 3879.1,902.8 3818.0,970.8 3750.0,1011.6 3699.6,943.6 3631.7,964.0 3631.7,875.6 3692.8,739.7 3672.4,535.8 3618.1,495.0" fill="#e4e1c3"/>
<polygon points="3373.4,916.4 3461.7,909.6 3529.7,923.2 3631.7,970.8 3749.9,957.2 3818.0,970.8 3885.9,1044.9 3953.9,1045.0 4076.3,1085.8 4076.3,1248.9 3974.3,1303.3 3750.0,1269.3 3750.0,1167.3 3665.6,1160.5 3529.7,1248.9 3427.7,1180.9 3387.0,1045.0 3373.4,1044.9" fill="#e3e6c9"/>
<polygon points="3750.0,1303.3 3974.3,1316.9 3960.7,1452.8 3885.9,1534.4 3790.8,1520.8 3750.0,1534.4 3749.9,1520.8 3597.7,1514.0 3461.7,1425.6 3482.1,1316.9 3597.7,1269.3 3749.9,1303.3" fill="#e3e6c9"/>
<polygon points="4076.3,1466.4 4327.7,1480.0 4375.3,1548.0 4348.1,1629.5 4185.0,1670.3 3987.9,1690.7 4035.5,1622.7 4089.8,1588.8" fill="#e3e6c9"/>
<polygon points="3899.5,1711.1 4361.7,1670.3 4402.5,1724.7 4361.7,1860.6 4089.8,1894.6 3926.7,1833.5" fill="#e3e6c9"/>
<polygon points="3006.3,331.9 3257.8,318.3 3325.8,399.8 3230.6,535.8 3053.9,563.0 2985.9,467.8" fill="#e3e6c9"/>
<polygon points="4191.8,97.4 4497.7,97.4 4497.7,236.7 4293.8,236.7 4185.0,195.9" fill="#e3e6c9"/>
<polygon points="4314.2,386.3 4497.7,386.3 4497.7,495.0 4388.9,529.0 4314.2,501.8" fill="#e3e6c9"/>
</g>
<mask id="tmask" maskUnits="userSpaceOnUse" x="2890" y="90" width="1720" height="1900"><rect x="2890" y="90" width="1720" height="1900" fill="#a8a8a8"/><g filter="url(#blur18)">
<polygon points="4073.6,576.6 4603.8,576.6 4603.8,1283.5 4209.5,1283.5 4073.6,1011.6" fill="#fff"/>
<polygon points="3801.7,100.8 4603.8,100.8 4603.8,576.6 3937.6,576.6" fill="#fff"/>
<polygon points="3421.0,399.9 3665.7,399.9 3665.7,902.9 3393.8,902.9" fill="#fff"/>
<polygon points="4209.5,1283.5 4603.8,1283.5 4603.8,1990.5 4277.5,1990.5" fill="#fff"/>
<polygon points="3937.6,1351.5 4155.1,1351.5 4073.6,1623.4 3828.8,1664.2" fill="#fff"/>
<polygon points="3604.5,379.5 3720.1,399.9 3801.7,508.6 3883.2,631.0 3896.8,766.9 3856.0,875.7 3720.1,902.9 3652.1,821.3 3679.3,671.8 3652.1,508.6 3597.7,440.7" fill="#3a3a3a"/>
<polygon points="3366.6,902.9 4073.6,902.9 4114.3,1147.6 3733.7,1147.6 3393.8,1147.6" fill="#3a3a3a"/>
<polygon points="3733.7,1120.4 4141.5,1120.4 4141.5,1419.5 3801.7,1419.5 3720.1,1283.5" fill="#3a3a3a"/>
<polygon points="4073.6,1487.5 4413.4,1487.5 4413.4,1759.4 4073.6,1759.4" fill="#3a3a3a"/>
<polygon points="2900.3,1215.6 3189.9,1215.6 3189.9,1514.7 2900.3,1514.7" fill="#3a3a3a"/>
<polygon points="2900.3,603.8 3257.8,603.8 3257.8,1147.6 2900.3,1147.6" fill="#3a3a3a"/>
</g></mask>
<linearGradient id="gew" gradientUnits="userSpaceOnUse" x1="3820" y1="0" x2="4080" y2="0"><stop offset="0" stop-color="#fff"/><stop offset="1" stop-color="#000"/></linearGradient>
<linearGradient id="gee" gradientUnits="userSpaceOnUse" x1="3820" y1="0" x2="4080" y2="0"><stop offset="0" stop-color="#000"/><stop offset="1" stop-color="#fff"/></linearGradient>
<mask id="mw" maskUnits="userSpaceOnUse" x="2890" y="90" width="1720" height="1900"><rect x="2890" y="90" width="1720" height="1900" fill="url(#gew)"/></mask>
<mask id="me" maskUnits="userSpaceOnUse" x="2890" y="90" width="1720" height="1900"><rect x="2890" y="90" width="1720" height="1900" fill="url(#gee)"/></mask>
<g style="mix-blend-mode:multiply" mask="url(#tmask)">
<g mask="url(#mw)"><rect x="-1300" y="-1300" width="2600" height="2600" filter="url(#hill)" transform="translate(3748,1041) rotate(24)"/></g>
</g>
<g style="mix-blend-mode:multiply" mask="url(#tmask)">
<g mask="url(#me)"><rect x="-1300" y="-1300" width="2600" height="2600" filter="url(#hill2)" transform="translate(3748,1041) rotate(-42)"/></g>
</g>
<g filter="url(#blur5)" opacity="0.8">
<polygon points="3465.1,97.4 3471.9,124.6 3458.3,162.0 3482.1,192.5 3492.3,240.1 3461.7,280.9 3451.5,321.7 3454.9,362.5 3471.9,393.1 3448.1,430.4 3431.1,467.8 3393.8,486.9 3349.6,512.0 3319.0,546.0 3285.0,576.6 3291.8,624.2 3312.2,637.7 3305.4,698.9 3285.0,746.5 3278.2,787.3 3237.4,831.5 3203.4,875.6 3183.1,923.2 3169.5,964.0 3174.9,1011.6 3149.1,1044.9 3161.3,1045.0 3166.1,1119.8 3149.1,1153.8 3230.6,1133.4 3285.0,1085.8 3264.6,1045.0 3271.4,1011.6 3298.6,957.2 3332.6,909.6 3356.4,862.0 3372.0,807.7 3407.4,773.7 3427.7,732.9 3448.1,692.1 3468.5,637.7 3482.1,597.0 3499.1,566.4 3490.3,546.0 3512.7,501.8 3550.1,467.8 3587.5,427.0 3594.3,386.3 3560.3,359.1 3550.1,314.9 3529.7,297.9 3529.7,229.9 3522.9,148.4 3509.3,97.4" fill="#bcb7a5"/>
<polygon points="3495.7,440.6 3448.1,467.8 3380.2,522.2 3336.0,576.6 3305.4,651.3 3298.6,712.5 3325.8,746.5 3366.6,726.1 3393.8,671.7 3427.7,603.8 3461.7,549.4 3495.7,508.6 3512.7,467.8" fill="#9ba38d"/>
<polygon points="3176.3,930.0 3251.0,862.0 3257.8,943.6 3257.8,1044.9 3152.5,1044.9" fill="#9ba38d"/>
<polygon points="2897.6,97.4 2938.4,97.4 2965.5,182.3 2979.1,236.7 2965.5,277.5 2897.6,294.5" fill="#9ba38d"/>
<polygon points="3645.2,97.4 3692.8,97.4 3692.8,223.1 3652.0,216.3" fill="#bcb7a5"/>
<polygon points="3230.6,1133.4 3325.8,1133.4 3339.4,1214.9 3319.0,1303.3 3285.0,1371.3 3244.2,1425.6 3189.8,1412.0 3155.9,1364.5 3162.7,1303.3 3203.4,1235.3" fill="#9ba38d"/>
<polygon points="3933.5,97.4 4130.6,97.4 4103.4,195.9 4049.1,263.9 4035.5,379.5 3953.9,379.5 3906.3,331.9 3926.7,229.9" fill="#bcb7a5"/>
<polygon points="4266.6,243.5 4429.7,243.5 4429.7,318.3 4361.7,379.5 4293.8,413.4 4225.8,413.4 4219.0,345.5" fill="#9ba38d"/>
<polygon points="4497.7,97.4 4603.0,97.4 4603.0,202.7 4511.3,195.9" fill="#9ba38d"/>
<polygon points="4497.7,386.3 4603.0,386.3 4603.0,495.0 4497.7,495.0" fill="#9ba38d"/>
<polygon points="4259.8,739.7 4314.2,739.7 4314.2,943.6 4266.6,943.6" fill="#bcb7a5"/>
<polygon points="3974.3,1337.3 4021.9,1333.9 4069.5,1344.1 4049.1,1398.4 4035.5,1466.4 3987.9,1520.8 3940.3,1561.6 3885.9,1622.7 3838.4,1677.1 3818.0,1670.3 3814.6,1629.5 3838.4,1588.8 3913.1,1534.4 3960.7,1452.8 3974.3,1384.8" fill="#bcb7a5"/>
<polygon points="4130.6,1282.9 4171.4,1269.3 4225.8,1330.5 4219.0,1384.8 4225.8,1425.6 4185.0,1452.8 4137.4,1446.0 4117.0,1398.4 4130.6,1344.1" fill="#9ba38d"/>
<polygon points="3926.7,1901.4 4021.9,1881.0 4076.3,1928.6 4069.5,1986.4 3926.7,1986.4" fill="#bcb7a5"/>
<polygon points="3601.1,386.3 3631.7,379.5 3692.8,399.8 3749.9,440.6 3777.2,454.2 3811.2,535.8 3919.9,603.8 3926.7,739.7 3899.5,848.5 3879.1,902.8 3818.0,970.8 3750.0,1011.6 3699.6,943.6 3631.7,964.0 3631.7,875.6 3692.8,739.7 3672.4,535.8 3618.1,495.0" fill="#e6e3c5"/>
</g>
<g stroke="#5a5f4a" stroke-width="1.3" opacity="0.55">
<line x1="3008" y1="102.5" x2="3008" y2="1979.5"/>
<line x1="3367.5" y1="102.5" x2="3367.5" y2="1979.5"/>
<line x1="3727" y1="102.5" x2="3727" y2="1979.5"/>
<line x1="4088" y1="102.5" x2="4088" y2="1979.5"/>
<line x1="4448" y1="102.5" x2="4448" y2="1979.5"/>
<line x1="2900.5" y1="330" x2="4596" y2="330"/>
<line x1="2900.5" y1="631" x2="4596" y2="631"/>
<line x1="2900.5" y1="932" x2="4596" y2="932"/>
<line x1="2900.5" y1="1233.5" x2="4596" y2="1233.5"/>
<line x1="2900.5" y1="1534.5" x2="4596" y2="1534.5"/>
<line x1="2900.5" y1="1835.5" x2="4596" y2="1835.5"/>
</g>
<g fill="none" stroke-linecap="round" stroke-linejoin="round" filter="url(#soft)">
<path d="M3749.9,658.1 C3742.7,659.2 3715.9,659.2 3706.4,664.9 C3696.9,670.6 3693.9,680.8 3692.8,692.1 C3691.7,703.4 3690.1,725.0 3699.6,732.9 C3709.1,740.8 3741.5,738.6 3749.9,739.7" stroke="#cfae92" stroke-width="5.5" opacity="0.8"/>
<path d="M3696.2,698.9 L3749.9,688.7" stroke="#cfae92" stroke-width="5.5" opacity="0.8"/>
<path d="M3750.0,658.1 C3756.8,657.0 3779.5,649.0 3790.8,651.3 C3802.1,653.6 3813.5,668.3 3818.0,671.7" stroke="#cfae92" stroke-width="5.5" opacity="0.8"/>
<path d="M3750.0,729.5 L3777.2,712.5" stroke="#cfae92" stroke-width="5.5" opacity="0.8"/>
<path d="M3750.0,780.5 C3759.1,778.2 3786.3,768.0 3804.4,766.9 C3822.5,765.8 3845.2,766.9 3858.8,773.7 C3872.4,780.5 3880.2,797.5 3885.9,807.7 C3891.6,817.9 3898.3,827.0 3892.7,834.9 C3887.0,842.8 3869.0,852.9 3852.0,855.2 C3835.0,857.5 3807.8,847.4 3790.8,848.5 C3773.8,849.6 3756.8,859.8 3750.0,862.0" stroke="#cfae92" stroke-width="5.5" opacity="0.8"/>
<path d="M3750.0,909.6 C3761.3,907.3 3797.1,901.7 3818.0,896.0 C3838.9,890.3 3866.1,879.0 3875.7,875.6" stroke="#cfae92" stroke-width="5.5" opacity="0.8"/>
<path d="M3611.3,916.4 C3615.8,924.3 3626.1,954.9 3638.5,964.0 C3650.9,973.1 3667.4,976.5 3686.0,970.8 C3704.6,965.1 3739.2,936.8 3749.9,930.0" stroke="#cfae92" stroke-width="5.5" opacity="0.8"/>
<path d="M3750.0,1058.6 C3761.3,1060.9 3795.3,1071.1 3818.0,1072.2 C3840.7,1073.3 3863.2,1069.9 3885.9,1065.4 C3908.6,1060.9 3942.6,1048.4 3953.9,1045.0" stroke="#cfae92" stroke-width="5.5" opacity="0.8"/>
<path d="M3953.9,1045.0 C3957.3,1051.8 3960.7,1073.3 3974.3,1085.8 C3987.9,1098.3 4019.6,1103.9 4035.5,1119.8 C4051.4,1135.7 4055.9,1159.4 4069.5,1180.9 C4083.1,1202.4 4102.3,1234.2 4117.0,1248.9 C4131.7,1263.6 4151.0,1265.9 4157.8,1269.3" stroke="#cfae92" stroke-width="5.5" opacity="0.8"/>
<path d="M4021.9,1079.0 C4040.0,1074.5 4114.8,1057.5 4130.6,1051.8 C4146.5,1046.1 4119.3,1046.1 4117.0,1045.0" stroke="#cfae92" stroke-width="5.5" opacity="0.8"/>
<path d="M3885.9,998.0 C3876.8,1000.3 3847.4,1003.8 3831.6,1011.6 C3815.8,1019.4 3797.6,1039.4 3790.8,1044.9" stroke="#cfae92" stroke-width="5.5" opacity="0.8"/>
<path d="M3631.7,1044.9 C3643.0,1039.4 3679.9,1018.3 3699.6,1011.6 C3719.3,1004.9 3741.5,1005.9 3749.9,1004.8" stroke="#cfae92" stroke-width="5.5" opacity="0.8"/>
<path d="M3749.9,658.1 C3742.7,659.2 3715.9,659.2 3706.4,664.9 C3696.9,670.6 3693.9,680.8 3692.8,692.1 C3691.7,703.4 3690.1,725.0 3699.6,732.9 C3709.1,740.8 3741.5,738.6 3749.9,739.7" stroke="#e6d9b8" stroke-width="2.5" opacity="0.9"/>
<path d="M3696.2,698.9 L3749.9,688.7" stroke="#e6d9b8" stroke-width="2.5" opacity="0.9"/>
<path d="M3750.0,658.1 C3756.8,657.0 3779.5,649.0 3790.8,651.3 C3802.1,653.6 3813.5,668.3 3818.0,671.7" stroke="#e6d9b8" stroke-width="2.5" opacity="0.9"/>
<path d="M3750.0,729.5 L3777.2,712.5" stroke="#e6d9b8" stroke-width="2.5" opacity="0.9"/>
<path d="M3750.0,780.5 C3759.1,778.2 3786.3,768.0 3804.4,766.9 C3822.5,765.8 3845.2,766.9 3858.8,773.7 C3872.4,780.5 3880.2,797.5 3885.9,807.7 C3891.6,817.9 3898.3,827.0 3892.7,834.9 C3887.0,842.8 3869.0,852.9 3852.0,855.2 C3835.0,857.5 3807.8,847.4 3790.8,848.5 C3773.8,849.6 3756.8,859.8 3750.0,862.0" stroke="#e6d9b8" stroke-width="2.5" opacity="0.9"/>
<path d="M3750.0,909.6 C3761.3,907.3 3797.1,901.7 3818.0,896.0 C3838.9,890.3 3866.1,879.0 3875.7,875.6" stroke="#e6d9b8" stroke-width="2.5" opacity="0.9"/>
<path d="M3611.3,916.4 C3615.8,924.3 3626.1,954.9 3638.5,964.0 C3650.9,973.1 3667.4,976.5 3686.0,970.8 C3704.6,965.1 3739.2,936.8 3749.9,930.0" stroke="#e6d9b8" stroke-width="2.5" opacity="0.9"/>
<path d="M3750.0,1058.6 C3761.3,1060.9 3795.3,1071.1 3818.0,1072.2 C3840.7,1073.3 3863.2,1069.9 3885.9,1065.4 C3908.6,1060.9 3942.6,1048.4 3953.9,1045.0" stroke="#e6d9b8" stroke-width="2.5" opacity="0.9"/>
<path d="M3953.9,1045.0 C3957.3,1051.8 3960.7,1073.3 3974.3,1085.8 C3987.9,1098.3 4019.6,1103.9 4035.5,1119.8 C4051.4,1135.7 4055.9,1159.4 4069.5,1180.9 C4083.1,1202.4 4102.3,1234.2 4117.0,1248.9 C4131.7,1263.6 4151.0,1265.9 4157.8,1269.3" stroke="#e6d9b8" stroke-width="2.5" opacity="0.9"/>
<path d="M4021.9,1079.0 C4040.0,1074.5 4114.8,1057.5 4130.6,1051.8 C4146.5,1046.1 4119.3,1046.1 4117.0,1045.0" stroke="#e6d9b8" stroke-width="2.5" opacity="0.9"/>
<path d="M3885.9,998.0 C3876.8,1000.3 3847.4,1003.8 3831.6,1011.6 C3815.8,1019.4 3797.6,1039.4 3790.8,1044.9" stroke="#e6d9b8" stroke-width="2.5" opacity="0.9"/>
<path d="M3631.7,1044.9 C3643.0,1039.4 3679.9,1018.3 3699.6,1011.6 C3719.3,1004.9 3741.5,1005.9 3749.9,1004.8" stroke="#e6d9b8" stroke-width="2.5" opacity="0.9"/>
<path d="M2897.6,698.9 C2911.2,699.5 2961.0,698.3 2979.1,702.3 C2997.2,706.3 2997.8,717.0 3006.3,722.7 C3014.8,728.4 3025.0,735.7 3030.1,736.3 C3035.2,736.9 3034.1,723.8 3036.9,726.1 C3039.7,728.4 3040.9,747.1 3047.1,749.9 C3053.3,752.7 3065.2,742.5 3074.3,743.1 C3083.4,743.7 3092.4,749.3 3101.5,753.3 C3110.6,757.3 3119.6,761.2 3128.7,766.9 C3137.8,772.6 3143.4,783.3 3155.9,787.3 C3168.4,791.3 3186.4,790.7 3203.4,790.7 C3220.4,790.7 3245.3,786.7 3257.8,787.3 C3270.3,787.9 3276.5,789.6 3278.2,794.1 C3279.9,798.6 3272.0,806.6 3268.0,814.5 C3264.0,822.4 3256.1,831.5 3254.4,841.7 C3252.7,851.9 3258.4,866.6 3257.8,875.6 C3257.2,884.6 3249.9,885.8 3251.0,896.0 C3252.1,906.2 3258.9,926.6 3264.6,936.8 C3270.3,947.0 3274.8,953.8 3285.0,957.2 C3295.2,960.6 3314.5,954.9 3325.8,957.2 C3337.1,959.5 3346.2,964.0 3353.0,970.8 C3359.8,977.6 3362.6,985.6 3366.6,998.0 C3370.6,1010.4 3373.4,1037.1 3376.8,1044.9 C3380.2,1052.7 3385.9,1038.2 3387.0,1045.0 C3388.1,1051.8 3381.3,1071.1 3383.6,1085.8 C3385.9,1100.5 3393.2,1117.6 3400.6,1133.4 C3407.9,1149.2 3422.6,1161.7 3427.7,1180.9 C3432.8,1200.2 3427.7,1233.0 3431.1,1248.9 C3434.5,1264.8 3441.9,1264.8 3448.1,1276.1 C3454.3,1287.4 3464.5,1303.3 3468.5,1316.9 C3472.5,1330.5 3474.2,1344.1 3471.9,1357.7 C3469.6,1371.3 3463.4,1387.1 3454.9,1398.4 C3446.4,1409.7 3432.2,1418.8 3420.9,1425.6 C3409.6,1432.4 3392.7,1430.1 3387.0,1439.2 C3381.3,1448.3 3385.9,1466.4 3387.0,1480.0 C3388.1,1493.6 3392.7,1514.0 3393.8,1520.8" stroke="#c4a086" stroke-width="7.5"/>
<path d="M3006.3,722.7 C3008.0,730.1 3012.0,752.7 3016.5,766.9 C3021.0,781.1 3029.5,795.2 3033.5,807.7 C3037.5,820.2 3040.9,830.4 3040.3,841.7 C3039.7,853.0 3034.6,860.9 3030.1,875.6 C3025.6,890.3 3018.2,913.0 3013.1,930.0 C3008.0,947.0 3006.3,964.0 2999.5,977.6 C2992.7,991.2 2981.4,1000.4 2972.3,1011.6 C2963.2,1022.8 2950.8,1039.3 2945.2,1044.9 C2939.5,1050.5 2938.4,1039.3 2938.4,1045.0 C2938.4,1050.7 2940.7,1067.7 2945.2,1079.0 C2949.7,1090.3 2964.4,1099.4 2965.5,1113.0 C2966.6,1126.6 2952.0,1144.7 2952.0,1160.5 C2952.0,1176.3 2962.7,1190.0 2965.5,1208.1 C2968.3,1226.2 2971.2,1248.9 2968.9,1269.3 C2966.7,1289.7 2957.1,1311.2 2952.0,1330.5 C2946.9,1349.8 2940.7,1362.1 2938.4,1384.8 C2936.1,1407.5 2933.9,1446.0 2938.4,1466.4 C2942.9,1486.8 2957.6,1498.1 2965.5,1507.2 C2973.4,1516.3 2982.5,1518.5 2985.9,1520.8" stroke="#c4a086" stroke-width="7.5"/>
<path d="M3366.6,943.6 C3371.1,938.5 3380.2,918.7 3393.8,913.0 C3407.4,907.3 3425.4,908.5 3448.1,909.6 C3470.8,910.7 3504.8,919.2 3529.7,919.8 C3554.6,920.4 3575.0,918.1 3597.7,913.0 C3620.3,907.9 3647.5,895.4 3665.6,889.2 C3683.7,883.0 3692.3,879.0 3706.4,875.6 C3720.5,872.2 3742.6,869.9 3749.9,868.8 C3757.2,867.7 3743.2,873.3 3750.0,868.8 C3756.8,864.3 3773.8,851.9 3790.8,841.7 C3807.8,831.5 3840.7,819.0 3852.0,807.7 C3863.3,796.4 3857.7,779.4 3858.8,773.7" stroke="#c4a086" stroke-width="7.5"/>
<path d="M3699.6,97.4 C3701.3,103.6 3706.4,120.7 3709.8,134.8 C3713.2,149.0 3721.7,168.7 3720.0,182.3 C3718.3,195.9 3707.5,207.2 3699.6,216.3 C3691.7,225.4 3680.9,229.9 3672.4,236.7 C3663.9,243.5 3652.0,250.3 3648.6,257.1 C3645.2,263.9 3648.0,268.4 3652.0,277.5 C3656.0,286.6 3665.6,299.0 3672.4,311.5 C3679.2,324.0 3687.7,337.6 3692.8,352.3 C3697.9,367.0 3703.6,388.5 3703.0,399.8 C3702.4,411.1 3692.8,411.1 3689.4,420.2 C3686.0,429.3 3682.6,444.0 3682.6,454.2 C3682.6,464.4 3691.1,472.3 3689.4,481.4 C3687.7,490.5 3675.8,500.7 3672.4,508.6 C3669.0,516.5 3666.7,521.1 3669.0,529.0 C3671.3,536.9 3679.2,547.1 3686.0,556.2 C3692.8,565.3 3701.9,576.6 3709.8,583.4 C3717.7,590.2 3726.9,593.6 3733.6,597.0 C3740.3,600.4 3747.2,602.7 3749.9,603.8 C3752.6,604.9 3743.2,599.3 3750.0,603.8 C3756.8,608.3 3779.5,619.6 3790.8,630.9 C3802.1,642.2 3820.3,658.1 3818.0,671.7 C3815.7,685.3 3777.2,700.0 3777.2,712.5 C3777.2,725.0 3804.4,736.3 3818.0,746.5 C3831.6,756.7 3852.6,760.1 3858.8,773.7 C3865.0,787.3 3852.6,811.1 3855.4,828.1 C3858.2,845.1 3871.2,856.4 3875.7,875.6 C3880.2,894.9 3880.8,923.2 3882.5,943.6 C3884.2,964.0 3879.7,984.4 3885.9,998.0 C3892.1,1011.6 3909.7,1017.4 3919.9,1025.2 C3930.1,1033.0 3941.4,1041.6 3947.1,1044.9 C3952.8,1048.2 3941.4,1039.3 3953.9,1045.0 C3966.4,1050.7 4004.9,1070.5 4021.9,1079.0 C4038.9,1087.5 4045.1,1092.0 4055.9,1096.0 C4066.7,1100.0 4080.8,1096.6 4086.5,1102.8 C4092.2,1109.0 4084.7,1122.7 4089.8,1133.4 C4094.9,1144.2 4106.8,1153.7 4117.0,1167.3 C4127.2,1180.9 4141.4,1202.4 4151.0,1214.9 C4160.6,1227.4 4170.3,1234.2 4174.8,1242.1 C4179.3,1250.0 4170.8,1252.3 4178.2,1262.5 C4185.6,1272.7 4206.5,1290.8 4219.0,1303.3 C4231.5,1315.8 4241.7,1327.1 4253.0,1337.3 C4264.3,1347.5 4279.1,1352.0 4287.0,1364.5 C4294.9,1377.0 4297.2,1397.3 4300.6,1412.0 C4304.0,1426.7 4302.9,1440.3 4307.4,1452.8 C4311.9,1465.3 4319.8,1477.2 4327.7,1486.8 C4335.6,1496.4 4347.0,1501.5 4354.9,1510.6 C4362.8,1519.7 4367.4,1531.6 4375.3,1541.2 C4383.2,1550.8 4401.4,1560.5 4402.5,1568.4 C4403.6,1576.3 4386.1,1578.6 4382.1,1588.8 C4378.1,1599.0 4376.4,1617.0 4378.7,1629.5 C4381.0,1642.0 4387.2,1651.0 4395.7,1663.5 C4404.2,1676.0 4417.2,1690.7 4429.7,1704.3 C4442.2,1717.9 4456.9,1730.4 4470.5,1745.1 C4484.1,1759.8 4498.9,1778.0 4511.3,1792.7 C4523.8,1807.4 4535.0,1819.9 4545.2,1833.5 C4555.4,1847.1 4562.8,1862.3 4572.4,1874.2 C4582.0,1886.1 4597.9,1899.7 4603.0,1904.8" stroke="#c4a086" stroke-width="7.5"/>
<path d="M3703.0,399.8 C3707.0,404.9 3719.0,424.2 3726.8,430.4 C3734.6,436.6 3746.0,436.1 3749.9,437.2 C3753.8,438.3 3745.4,435.5 3750.0,437.2 C3754.6,438.9 3769.3,440.0 3777.2,447.4 C3785.1,454.8 3793.1,468.9 3797.6,481.4 C3802.1,493.9 3797.6,509.7 3804.4,522.2 C3811.2,534.7 3824.8,546.0 3838.4,556.2 C3852.0,566.4 3866.7,573.2 3885.9,583.4 C3905.2,593.6 3935.8,608.3 3953.9,617.4 C3972.0,626.5 3983.4,630.9 3994.7,637.7 C4006.0,644.5 4014.0,647.9 4021.9,658.1 C4029.8,668.3 4035.5,688.1 4042.3,698.9 C4049.1,709.7 4057.0,721.6 4062.7,722.7 C4068.4,723.8 4073.5,713.1 4076.3,705.7 C4079.1,698.3 4076.3,683.6 4079.7,678.5 C4083.1,673.4 4088.1,672.8 4096.6,675.1 C4105.1,677.4 4118.1,687.0 4130.6,692.1 C4143.1,697.2 4157.8,699.5 4171.4,705.7 C4185.0,711.9 4200.9,725.0 4212.2,729.5 C4223.5,734.0 4230.3,735.7 4239.4,732.9 C4248.5,730.1 4257.5,725.0 4266.6,712.5 C4275.7,700.0 4285.9,672.8 4293.8,658.1 C4301.7,643.4 4307.4,635.5 4314.2,624.2 C4321.0,612.9 4324.3,598.1 4334.5,590.2 C4344.7,582.3 4361.7,583.4 4375.3,576.6 C4388.9,569.8 4402.5,558.5 4416.1,549.4 C4429.7,540.3 4443.3,527.3 4456.9,522.2 C4470.5,517.1 4485.2,517.7 4497.7,518.8 C4510.2,519.9 4520.4,525.0 4531.7,529.0 C4543.0,533.0 4553.7,540.3 4565.6,542.6 C4577.5,544.9 4596.8,542.6 4603.0,542.6" stroke="#c4a086" stroke-width="7.5"/>
<path d="M4185.0,97.4 C4181.6,102.5 4173.7,117.2 4164.6,128.0 C4155.5,138.8 4143.1,148.4 4130.6,162.0 C4118.1,175.6 4102.2,194.8 4089.8,209.5 C4077.4,224.2 4064.4,236.7 4055.9,250.3 C4047.4,263.9 4042.9,275.2 4038.9,291.1 C4034.9,307.0 4037.2,329.6 4032.1,345.5 C4027.0,361.4 4016.8,375.0 4008.3,386.3 C3999.8,397.6 3995.8,408.3 3981.1,413.4 C3966.4,418.5 3941.4,412.8 3919.9,416.8 C3898.4,420.8 3871.2,428.7 3852.0,437.2 C3832.8,445.7 3813.5,460.4 3804.4,467.8 C3795.3,475.2 3798.7,479.1 3797.6,481.4" stroke="#c4a086" stroke-width="7.5"/>
<path d="M4307.4,1463.0 C4301.7,1468.1 4283.6,1486.2 4273.4,1493.6 C4263.2,1501.0 4263.2,1499.3 4246.2,1507.2 C4229.2,1515.1 4187.3,1528.7 4171.4,1541.2 C4155.5,1553.7 4164.6,1572.9 4151.0,1582.0 C4137.4,1591.1 4106.8,1588.8 4089.8,1595.6 C4072.8,1602.4 4062.7,1614.8 4049.1,1622.7 C4035.5,1630.6 4024.2,1636.3 4008.3,1643.1 C3992.4,1649.9 3974.3,1657.8 3953.9,1663.5 C3933.5,1669.2 3908.6,1671.4 3885.9,1677.1 C3863.2,1682.8 3840.7,1693.0 3818.0,1697.5 C3795.3,1702.0 3761.3,1702.6 3750.0,1704.3 C3738.7,1706.0 3761.7,1707.7 3749.9,1707.7 C3738.1,1707.7 3695.5,1708.3 3679.2,1704.3 C3662.9,1700.3 3662.2,1693.0 3652.0,1683.9 C3641.8,1674.8 3628.3,1658.1 3618.1,1649.9 C3607.9,1641.8 3595.4,1637.5 3590.9,1635.0" stroke="#c4a086" stroke-width="7.5"/>
<path d="M4419.5,1711.1 C4421.2,1714.5 4423.5,1722.4 4429.7,1731.5 C4435.9,1740.6 4450.1,1748.5 4456.9,1765.5 C4463.7,1782.5 4473.9,1812.0 4470.5,1833.5 C4467.1,1855.0 4439.9,1876.5 4436.5,1894.6 C4433.1,1912.7 4450.1,1926.9 4450.1,1942.2 C4450.1,1957.5 4438.8,1979.0 4436.5,1986.4" stroke="#c4a086" stroke-width="7.5"/>
<path d="M4470.5,1833.5 C4462.6,1834.6 4433.1,1824.4 4422.9,1840.2 C4412.7,1856.0 4412.7,1909.3 4409.3,1928.6 C4405.9,1947.9 4411.6,1946.2 4402.5,1955.8 C4393.4,1965.4 4362.8,1981.3 4354.9,1986.4" stroke="#c4a086" stroke-width="7.5"/>
<path d="M2897.6,698.9 C2911.2,699.5 2961.0,698.3 2979.1,702.3 C2997.2,706.3 2997.8,717.0 3006.3,722.7 C3014.8,728.4 3025.0,735.7 3030.1,736.3 C3035.2,736.9 3034.1,723.8 3036.9,726.1 C3039.7,728.4 3040.9,747.1 3047.1,749.9 C3053.3,752.7 3065.2,742.5 3074.3,743.1 C3083.4,743.7 3092.4,749.3 3101.5,753.3 C3110.6,757.3 3119.6,761.2 3128.7,766.9 C3137.8,772.6 3143.4,783.3 3155.9,787.3 C3168.4,791.3 3186.4,790.7 3203.4,790.7 C3220.4,790.7 3245.3,786.7 3257.8,787.3 C3270.3,787.9 3276.5,789.6 3278.2,794.1 C3279.9,798.6 3272.0,806.6 3268.0,814.5 C3264.0,822.4 3256.1,831.5 3254.4,841.7 C3252.7,851.9 3258.4,866.6 3257.8,875.6 C3257.2,884.6 3249.9,885.8 3251.0,896.0 C3252.1,906.2 3258.9,926.6 3264.6,936.8 C3270.3,947.0 3274.8,953.8 3285.0,957.2 C3295.2,960.6 3314.5,954.9 3325.8,957.2 C3337.1,959.5 3346.2,964.0 3353.0,970.8 C3359.8,977.6 3362.6,985.6 3366.6,998.0 C3370.6,1010.4 3373.4,1037.1 3376.8,1044.9 C3380.2,1052.7 3385.9,1038.2 3387.0,1045.0 C3388.1,1051.8 3381.3,1071.1 3383.6,1085.8 C3385.9,1100.5 3393.2,1117.6 3400.6,1133.4 C3407.9,1149.2 3422.6,1161.7 3427.7,1180.9 C3432.8,1200.2 3427.7,1233.0 3431.1,1248.9 C3434.5,1264.8 3441.9,1264.8 3448.1,1276.1 C3454.3,1287.4 3464.5,1303.3 3468.5,1316.9 C3472.5,1330.5 3474.2,1344.1 3471.9,1357.7 C3469.6,1371.3 3463.4,1387.1 3454.9,1398.4 C3446.4,1409.7 3432.2,1418.8 3420.9,1425.6 C3409.6,1432.4 3392.7,1430.1 3387.0,1439.2 C3381.3,1448.3 3385.9,1466.4 3387.0,1480.0 C3388.1,1493.6 3392.7,1514.0 3393.8,1520.8" stroke="#e6d6b4" stroke-width="3"/>
<path d="M3006.3,722.7 C3008.0,730.1 3012.0,752.7 3016.5,766.9 C3021.0,781.1 3029.5,795.2 3033.5,807.7 C3037.5,820.2 3040.9,830.4 3040.3,841.7 C3039.7,853.0 3034.6,860.9 3030.1,875.6 C3025.6,890.3 3018.2,913.0 3013.1,930.0 C3008.0,947.0 3006.3,964.0 2999.5,977.6 C2992.7,991.2 2981.4,1000.4 2972.3,1011.6 C2963.2,1022.8 2950.8,1039.3 2945.2,1044.9 C2939.5,1050.5 2938.4,1039.3 2938.4,1045.0 C2938.4,1050.7 2940.7,1067.7 2945.2,1079.0 C2949.7,1090.3 2964.4,1099.4 2965.5,1113.0 C2966.6,1126.6 2952.0,1144.7 2952.0,1160.5 C2952.0,1176.3 2962.7,1190.0 2965.5,1208.1 C2968.3,1226.2 2971.2,1248.9 2968.9,1269.3 C2966.7,1289.7 2957.1,1311.2 2952.0,1330.5 C2946.9,1349.8 2940.7,1362.1 2938.4,1384.8 C2936.1,1407.5 2933.9,1446.0 2938.4,1466.4 C2942.9,1486.8 2957.6,1498.1 2965.5,1507.2 C2973.4,1516.3 2982.5,1518.5 2985.9,1520.8" stroke="#e6d6b4" stroke-width="3"/>
<path d="M3366.6,943.6 C3371.1,938.5 3380.2,918.7 3393.8,913.0 C3407.4,907.3 3425.4,908.5 3448.1,909.6 C3470.8,910.7 3504.8,919.2 3529.7,919.8 C3554.6,920.4 3575.0,918.1 3597.7,913.0 C3620.3,907.9 3647.5,895.4 3665.6,889.2 C3683.7,883.0 3692.3,879.0 3706.4,875.6 C3720.5,872.2 3742.6,869.9 3749.9,868.8 C3757.2,867.7 3743.2,873.3 3750.0,868.8 C3756.8,864.3 3773.8,851.9 3790.8,841.7 C3807.8,831.5 3840.7,819.0 3852.0,807.7 C3863.3,796.4 3857.7,779.4 3858.8,773.7" stroke="#e6d6b4" stroke-width="3"/>
<path d="M3699.6,97.4 C3701.3,103.6 3706.4,120.7 3709.8,134.8 C3713.2,149.0 3721.7,168.7 3720.0,182.3 C3718.3,195.9 3707.5,207.2 3699.6,216.3 C3691.7,225.4 3680.9,229.9 3672.4,236.7 C3663.9,243.5 3652.0,250.3 3648.6,257.1 C3645.2,263.9 3648.0,268.4 3652.0,277.5 C3656.0,286.6 3665.6,299.0 3672.4,311.5 C3679.2,324.0 3687.7,337.6 3692.8,352.3 C3697.9,367.0 3703.6,388.5 3703.0,399.8 C3702.4,411.1 3692.8,411.1 3689.4,420.2 C3686.0,429.3 3682.6,444.0 3682.6,454.2 C3682.6,464.4 3691.1,472.3 3689.4,481.4 C3687.7,490.5 3675.8,500.7 3672.4,508.6 C3669.0,516.5 3666.7,521.1 3669.0,529.0 C3671.3,536.9 3679.2,547.1 3686.0,556.2 C3692.8,565.3 3701.9,576.6 3709.8,583.4 C3717.7,590.2 3726.9,593.6 3733.6,597.0 C3740.3,600.4 3747.2,602.7 3749.9,603.8 C3752.6,604.9 3743.2,599.3 3750.0,603.8 C3756.8,608.3 3779.5,619.6 3790.8,630.9 C3802.1,642.2 3820.3,658.1 3818.0,671.7 C3815.7,685.3 3777.2,700.0 3777.2,712.5 C3777.2,725.0 3804.4,736.3 3818.0,746.5 C3831.6,756.7 3852.6,760.1 3858.8,773.7 C3865.0,787.3 3852.6,811.1 3855.4,828.1 C3858.2,845.1 3871.2,856.4 3875.7,875.6 C3880.2,894.9 3880.8,923.2 3882.5,943.6 C3884.2,964.0 3879.7,984.4 3885.9,998.0 C3892.1,1011.6 3909.7,1017.4 3919.9,1025.2 C3930.1,1033.0 3941.4,1041.6 3947.1,1044.9 C3952.8,1048.2 3941.4,1039.3 3953.9,1045.0 C3966.4,1050.7 4004.9,1070.5 4021.9,1079.0 C4038.9,1087.5 4045.1,1092.0 4055.9,1096.0 C4066.7,1100.0 4080.8,1096.6 4086.5,1102.8 C4092.2,1109.0 4084.7,1122.7 4089.8,1133.4 C4094.9,1144.2 4106.8,1153.7 4117.0,1167.3 C4127.2,1180.9 4141.4,1202.4 4151.0,1214.9 C4160.6,1227.4 4170.3,1234.2 4174.8,1242.1 C4179.3,1250.0 4170.8,1252.3 4178.2,1262.5 C4185.6,1272.7 4206.5,1290.8 4219.0,1303.3 C4231.5,1315.8 4241.7,1327.1 4253.0,1337.3 C4264.3,1347.5 4279.1,1352.0 4287.0,1364.5 C4294.9,1377.0 4297.2,1397.3 4300.6,1412.0 C4304.0,1426.7 4302.9,1440.3 4307.4,1452.8 C4311.9,1465.3 4319.8,1477.2 4327.7,1486.8 C4335.6,1496.4 4347.0,1501.5 4354.9,1510.6 C4362.8,1519.7 4367.4,1531.6 4375.3,1541.2 C4383.2,1550.8 4401.4,1560.5 4402.5,1568.4 C4403.6,1576.3 4386.1,1578.6 4382.1,1588.8 C4378.1,1599.0 4376.4,1617.0 4378.7,1629.5 C4381.0,1642.0 4387.2,1651.0 4395.7,1663.5 C4404.2,1676.0 4417.2,1690.7 4429.7,1704.3 C4442.2,1717.9 4456.9,1730.4 4470.5,1745.1 C4484.1,1759.8 4498.9,1778.0 4511.3,1792.7 C4523.8,1807.4 4535.0,1819.9 4545.2,1833.5 C4555.4,1847.1 4562.8,1862.3 4572.4,1874.2 C4582.0,1886.1 4597.9,1899.7 4603.0,1904.8" stroke="#e6d6b4" stroke-width="3"/>
<path d="M3703.0,399.8 C3707.0,404.9 3719.0,424.2 3726.8,430.4 C3734.6,436.6 3746.0,436.1 3749.9,437.2 C3753.8,438.3 3745.4,435.5 3750.0,437.2 C3754.6,438.9 3769.3,440.0 3777.2,447.4 C3785.1,454.8 3793.1,468.9 3797.6,481.4 C3802.1,493.9 3797.6,509.7 3804.4,522.2 C3811.2,534.7 3824.8,546.0 3838.4,556.2 C3852.0,566.4 3866.7,573.2 3885.9,583.4 C3905.2,593.6 3935.8,608.3 3953.9,617.4 C3972.0,626.5 3983.4,630.9 3994.7,637.7 C4006.0,644.5 4014.0,647.9 4021.9,658.1 C4029.8,668.3 4035.5,688.1 4042.3,698.9 C4049.1,709.7 4057.0,721.6 4062.7,722.7 C4068.4,723.8 4073.5,713.1 4076.3,705.7 C4079.1,698.3 4076.3,683.6 4079.7,678.5 C4083.1,673.4 4088.1,672.8 4096.6,675.1 C4105.1,677.4 4118.1,687.0 4130.6,692.1 C4143.1,697.2 4157.8,699.5 4171.4,705.7 C4185.0,711.9 4200.9,725.0 4212.2,729.5 C4223.5,734.0 4230.3,735.7 4239.4,732.9 C4248.5,730.1 4257.5,725.0 4266.6,712.5 C4275.7,700.0 4285.9,672.8 4293.8,658.1 C4301.7,643.4 4307.4,635.5 4314.2,624.2 C4321.0,612.9 4324.3,598.1 4334.5,590.2 C4344.7,582.3 4361.7,583.4 4375.3,576.6 C4388.9,569.8 4402.5,558.5 4416.1,549.4 C4429.7,540.3 4443.3,527.3 4456.9,522.2 C4470.5,517.1 4485.2,517.7 4497.7,518.8 C4510.2,519.9 4520.4,525.0 4531.7,529.0 C4543.0,533.0 4553.7,540.3 4565.6,542.6 C4577.5,544.9 4596.8,542.6 4603.0,542.6" stroke="#e6d6b4" stroke-width="3"/>
<path d="M4185.0,97.4 C4181.6,102.5 4173.7,117.2 4164.6,128.0 C4155.5,138.8 4143.1,148.4 4130.6,162.0 C4118.1,175.6 4102.2,194.8 4089.8,209.5 C4077.4,224.2 4064.4,236.7 4055.9,250.3 C4047.4,263.9 4042.9,275.2 4038.9,291.1 C4034.9,307.0 4037.2,329.6 4032.1,345.5 C4027.0,361.4 4016.8,375.0 4008.3,386.3 C3999.8,397.6 3995.8,408.3 3981.1,413.4 C3966.4,418.5 3941.4,412.8 3919.9,416.8 C3898.4,420.8 3871.2,428.7 3852.0,437.2 C3832.8,445.7 3813.5,460.4 3804.4,467.8 C3795.3,475.2 3798.7,479.1 3797.6,481.4" stroke="#e6d6b4" stroke-width="3"/>
<path d="M4307.4,1463.0 C4301.7,1468.1 4283.6,1486.2 4273.4,1493.6 C4263.2,1501.0 4263.2,1499.3 4246.2,1507.2 C4229.2,1515.1 4187.3,1528.7 4171.4,1541.2 C4155.5,1553.7 4164.6,1572.9 4151.0,1582.0 C4137.4,1591.1 4106.8,1588.8 4089.8,1595.6 C4072.8,1602.4 4062.7,1614.8 4049.1,1622.7 C4035.5,1630.6 4024.2,1636.3 4008.3,1643.1 C3992.4,1649.9 3974.3,1657.8 3953.9,1663.5 C3933.5,1669.2 3908.6,1671.4 3885.9,1677.1 C3863.2,1682.8 3840.7,1693.0 3818.0,1697.5 C3795.3,1702.0 3761.3,1702.6 3750.0,1704.3 C3738.7,1706.0 3761.7,1707.7 3749.9,1707.7 C3738.1,1707.7 3695.5,1708.3 3679.2,1704.3 C3662.9,1700.3 3662.2,1693.0 3652.0,1683.9 C3641.8,1674.8 3628.3,1658.1 3618.1,1649.9 C3607.9,1641.8 3595.4,1637.5 3590.9,1635.0" stroke="#e6d6b4" stroke-width="3"/>
<path d="M4419.5,1711.1 C4421.2,1714.5 4423.5,1722.4 4429.7,1731.5 C4435.9,1740.6 4450.1,1748.5 4456.9,1765.5 C4463.7,1782.5 4473.9,1812.0 4470.5,1833.5 C4467.1,1855.0 4439.9,1876.5 4436.5,1894.6 C4433.1,1912.7 4450.1,1926.9 4450.1,1942.2 C4450.1,1957.5 4438.8,1979.0 4436.5,1986.4" stroke="#e6d6b4" stroke-width="3"/>
<path d="M4470.5,1833.5 C4462.6,1834.6 4433.1,1824.4 4422.9,1840.2 C4412.7,1856.0 4412.7,1909.3 4409.3,1928.6 C4405.9,1947.9 4411.6,1946.2 4402.5,1955.8 C4393.4,1965.4 4362.8,1981.3 4354.9,1986.4" stroke="#e6d6b4" stroke-width="3"/>
<path d="M3587.5,359.1 C3589.2,363.6 3597.4,376.1 3597.7,386.3 C3598.0,396.5 3596.3,407.8 3589.5,420.2 C3582.7,432.6 3566.9,448.5 3556.9,461.0 C3546.9,473.5 3538.8,485.9 3529.7,495.0 C3520.6,504.1 3507.0,512.0 3502.5,515.4" stroke="#7fb4df" stroke-width="4"/>
<path d="M3533.1,226.5 C3535.0,232.7 3545.3,252.6 3544.7,263.9 C3544.1,275.2 3532.2,289.4 3529.7,294.5" stroke="#7fb4df" stroke-width="4"/>
<path d="M3492.3,576.6 C3489.5,583.4 3481.5,605.0 3475.3,617.4 C3469.1,629.8 3459.4,637.7 3454.9,651.3 C3450.4,664.9 3452.6,685.3 3448.1,698.9 C3443.6,712.5 3433.3,721.6 3427.7,732.9 C3422.0,744.2 3421.0,757.3 3414.2,766.9 C3407.4,776.5 3391.5,786.7 3387.0,790.7" stroke="#7fb4df" stroke-width="4"/>
<path d="M3370.0,807.7 C3369.4,813.4 3368.9,827.0 3366.6,841.7 C3364.3,856.4 3354.1,880.1 3356.4,896.0 C3358.7,911.9 3374.0,925.5 3380.2,936.8 C3386.4,948.1 3385.9,956.1 3393.8,964.0 C3401.7,971.9 3424.3,976.5 3427.7,984.4 C3431.1,992.3 3418.7,1001.5 3414.2,1011.6 C3409.7,1021.7 3410.2,1039.3 3400.6,1044.9 C3391.0,1050.5 3363.8,1039.3 3356.4,1045.0 C3349.0,1050.7 3350.2,1065.4 3356.4,1079.0 C3362.6,1092.6 3384.2,1110.8 3393.8,1126.6 C3403.4,1142.4 3410.2,1156.0 3414.2,1174.1 C3418.1,1192.2 3418.1,1222.8 3417.5,1235.3 C3416.9,1247.8 3409.7,1242.1 3410.8,1248.9 C3411.9,1255.7 3417.0,1265.9 3424.3,1276.1 C3431.7,1286.3 3448.7,1294.2 3454.9,1310.1 C3461.1,1326.0 3464.0,1355.4 3461.7,1371.3 C3459.4,1387.2 3449.2,1396.2 3441.3,1405.2 C3433.4,1414.2 3431.2,1421.1 3414.2,1425.6 C3397.2,1430.1 3352.4,1429.0 3339.4,1432.4 C3326.4,1435.8 3330.3,1438.1 3336.0,1446.0 C3341.7,1453.9 3366.6,1467.5 3373.4,1480.0 C3380.2,1492.5 3376.2,1514.0 3376.8,1520.8" stroke="#7fb4df" stroke-width="4"/>
<path d="M3590.9,1678.5 C3594.3,1675.4 3605.6,1660.3 3611.3,1660.1 C3617.0,1659.9 3618.1,1672.0 3624.9,1677.1 C3631.7,1682.2 3644.1,1683.3 3652.0,1690.7 C3659.9,1698.1 3664.5,1716.8 3672.4,1721.3 C3680.3,1725.8 3686.7,1717.3 3699.6,1717.9 C3712.5,1718.5 3741.5,1723.0 3749.9,1724.7 C3758.3,1726.4 3743.2,1729.2 3750.0,1728.1 C3756.8,1727.0 3779.5,1724.1 3790.8,1717.9 C3802.1,1711.7 3807.8,1695.2 3818.0,1690.7 C3828.2,1686.2 3839.0,1690.7 3852.0,1690.7 C3865.0,1690.7 3883.7,1688.4 3896.1,1690.7 C3908.5,1693.0 3911.4,1704.3 3926.7,1704.3 C3942.0,1704.3 3966.4,1694.1 3987.9,1690.7 C4009.4,1687.3 4025.3,1685.0 4055.9,1683.9 C4086.5,1682.8 4149.9,1686.7 4171.4,1683.9 C4192.9,1681.1 4164.6,1670.9 4185.0,1666.9 C4205.4,1662.9 4267.8,1666.3 4293.8,1660.1 C4319.9,1653.9 4327.7,1640.2 4341.3,1629.5 C4354.9,1618.8 4365.1,1604.6 4375.3,1595.6 C4385.5,1586.5 4394.6,1585.4 4402.5,1575.2 C4410.4,1565.0 4415.0,1544.6 4422.9,1534.4 C4430.8,1524.2 4442.2,1515.1 4450.1,1514.0 C4458.0,1512.9 4462.6,1521.9 4470.5,1527.6 C4478.4,1533.3 4486.4,1541.8 4497.7,1548.0 C4509.0,1554.2 4520.9,1561.6 4538.5,1565.0 C4556.1,1568.4 4592.2,1567.8 4603.0,1568.4" stroke="#7fb4df" stroke-width="4"/>
<path d="M2928.2,97.4 C2932.2,105.9 2944.1,129.7 2952.0,148.4 C2959.9,167.1 2971.8,190.2 2975.7,209.5 C2979.6,228.8 2979.6,250.9 2975.7,263.9 C2971.8,276.9 2965.0,281.8 2952.0,287.7 C2939.0,293.6 2906.7,297.4 2897.6,299.3" stroke="#86bbe6" stroke-width="3" stroke-dasharray="10 6 3 6"/>
<path d="M2897.6,495.0 C2901.0,501.8 2913.5,517.7 2918.0,535.8 C2922.5,553.9 2925.4,581.1 2924.8,603.8 C2924.2,626.4 2914.6,649.1 2914.6,671.7 C2914.6,694.4 2927.6,722.1 2924.8,739.7 C2922.0,757.3 2902.1,770.9 2897.6,777.1" stroke="#86bbe6" stroke-width="3" stroke-dasharray="10 6 3 6"/>
<path d="M2897.6,1058.6 C2901.0,1063.1 2915.2,1075.6 2918.0,1085.8 C2920.8,1096.0 2918.0,1109.6 2914.6,1119.8 C2911.2,1130.0 2900.4,1142.5 2897.6,1147.0" stroke="#86bbe6" stroke-width="3" stroke-dasharray="10 6 3 6"/>
<path d="M3465.1,97.4 C3466.2,101.9 3473.0,113.8 3471.9,124.6 C3470.8,135.4 3456.6,150.7 3458.3,162.0 C3460.0,173.3 3476.4,179.5 3482.1,192.5 C3487.8,205.5 3495.7,225.4 3492.3,240.1 C3488.9,254.8 3468.5,267.3 3461.7,280.9 C3454.9,294.5 3452.6,308.1 3451.5,321.7 C3450.4,335.3 3451.5,354.6 3454.9,362.5 C3458.3,370.4 3469.1,364.2 3471.9,369.3 C3474.7,374.4 3475.9,382.9 3471.9,393.1 C3467.9,403.3 3454.9,420.2 3448.1,430.4 C3441.3,440.6 3433.9,448.0 3431.1,454.2 C3428.3,460.4 3437.3,462.4 3431.1,467.8 C3424.9,473.2 3407.4,479.5 3393.8,486.9 C3380.2,494.3 3359.2,503.9 3349.6,512.0 C3340.0,520.1 3341.1,530.1 3336.0,535.8 C3330.9,541.5 3328.8,541.7 3319.0,546.0 C3309.2,550.3 3283.7,553.1 3276.9,561.6 C3270.1,570.1 3275.7,586.6 3278.2,597.0 C3280.7,607.4 3286.1,617.4 3291.8,624.2 C3297.5,631.0 3310.5,633.2 3312.2,637.7 C3313.9,642.2 3303.1,641.1 3302.0,651.3 C3300.9,661.5 3308.2,683.0 3305.4,698.9 C3302.6,714.8 3289.5,731.8 3285.0,746.5 C3280.5,761.2 3286.1,773.1 3278.2,787.3 C3270.3,801.5 3249.9,816.8 3237.4,831.5 C3224.9,846.2 3212.5,860.3 3203.4,875.6 C3194.3,890.9 3188.8,908.5 3183.1,923.2 C3177.4,937.9 3170.9,949.3 3169.5,964.0 C3168.1,978.7 3178.3,999.7 3174.9,1011.6 C3171.5,1023.5 3152.5,1029.9 3149.1,1035.4 C3145.7,1041.0 3152.5,1043.3 3154.5,1044.9 C3156.5,1046.5 3159.4,1041.6 3161.3,1045.0 C3163.2,1048.4 3166.4,1055.8 3166.1,1065.4 C3165.8,1075.0 3159.3,1093.7 3159.3,1102.8 C3159.3,1111.9 3168.9,1113.0 3166.1,1119.8 C3163.3,1126.6 3141.7,1134.5 3142.3,1143.6 C3142.9,1152.6 3173.5,1164.5 3169.5,1174.1 C3165.5,1183.7 3136.6,1197.9 3118.5,1201.3 C3100.4,1204.7 3080.0,1195.8 3060.7,1194.5 C3041.4,1193.2 3017.6,1191.2 3002.9,1193.2 C2988.2,1195.2 2981.9,1204.3 2972.3,1206.8 C2962.7,1209.3 2957.6,1210.9 2945.2,1208.1 C2932.8,1205.3 2905.5,1192.8 2897.6,1189.8" stroke="#3c8a27" stroke-width="5"/>
<path d="M3509.3,97.4 C3508.7,104.2 3503.6,129.7 3505.9,138.2 C3508.2,146.7 3519.5,141.1 3522.9,148.4 C3526.3,155.8 3528.0,175.5 3526.3,182.3 C3524.6,189.1 3512.1,181.2 3512.7,189.1 C3513.3,197.0 3524.6,221.4 3529.7,229.9 C3534.8,238.4 3543.9,232.2 3543.3,240.1 C3542.7,248.0 3528.6,267.9 3526.3,277.5 C3524.0,287.1 3525.7,291.7 3529.7,297.9 C3533.7,304.1 3545.0,304.7 3550.1,314.9 C3555.2,325.1 3554.1,351.7 3560.3,359.1 C3566.5,366.5 3581.3,354.6 3587.5,359.1 C3593.7,363.6 3596.6,373.9 3597.7,386.3 C3598.8,398.8 3602.2,420.2 3594.3,433.8 C3586.4,447.4 3563.7,456.5 3550.1,467.8 C3536.5,479.1 3521.8,493.3 3512.7,501.8 C3503.6,510.3 3499.4,511.4 3495.7,518.8 C3492.0,526.2 3489.7,538.1 3490.3,546.0 C3490.9,553.9 3500.5,557.9 3499.1,566.4 C3497.7,574.9 3487.2,585.1 3482.1,597.0 C3477.0,608.9 3473.6,625.2 3468.5,637.7 C3463.4,650.2 3454.9,662.6 3451.5,671.7 C3448.1,680.8 3452.1,686.4 3448.1,692.1 C3444.1,697.8 3431.1,698.9 3427.7,705.7 C3424.3,712.5 3431.1,721.6 3427.7,732.9 C3424.3,744.2 3416.4,763.5 3407.4,773.7 C3398.4,783.9 3379.3,785.0 3373.4,794.1 C3367.5,803.2 3365.2,821.3 3372.0,828.1 C3378.8,834.9 3398.7,832.6 3414.2,834.9 C3429.7,837.2 3454.9,834.9 3465.1,841.7 C3475.3,848.5 3475.3,867.1 3475.3,875.6 C3475.3,884.1 3469.6,886.4 3465.1,892.6 C3460.6,898.8 3447.5,907.9 3448.1,913.0 C3448.7,918.1 3464.5,917.0 3468.5,923.2 C3472.5,929.4 3468.5,943.0 3471.9,950.4 C3475.3,957.8 3479.3,963.4 3488.9,967.4 C3498.5,971.4 3520.6,971.4 3529.7,974.2 C3538.8,977.0 3534.2,982.5 3543.3,984.4 C3552.4,986.3 3570.5,986.4 3584.1,985.8 C3597.7,985.2 3617.0,984.6 3624.9,981.0 C3632.8,977.4 3624.9,968.0 3631.7,964.0 C3638.5,960.0 3658.2,960.6 3665.6,957.2 C3672.9,953.8 3670.1,946.4 3675.8,943.6 C3681.5,940.8 3695.1,936.8 3699.6,940.2 C3704.1,943.6 3698.5,961.2 3703.0,964.0 C3707.5,966.8 3720.6,959.5 3726.8,957.2 C3733.0,954.9 3736.6,952.7 3740.4,950.4 C3744.2,948.1 3748.3,944.7 3749.9,943.6 C3751.5,942.5 3748.8,943.0 3750.0,943.6 C3751.2,944.2 3755.7,946.4 3756.8,947.0" stroke="#3c8a27" stroke-width="5"/>
<path d="M3757.4,945.0 C3753.4,951.6 3739.3,973.3 3733.6,984.4 C3727.9,995.5 3721.1,1004.2 3723.4,1011.6 C3725.7,1019.0 3742.8,1023.0 3747.2,1028.6 C3751.6,1034.1 3749.4,1042.2 3749.9,1044.9 C3750.4,1047.6 3759.4,1041.6 3749.9,1045.0 C3740.4,1048.4 3706.3,1059.7 3692.8,1065.4 C3679.3,1071.1 3671.8,1072.8 3669.0,1079.0 C3666.2,1085.2 3669.6,1096.6 3675.8,1102.8 C3682.0,1109.0 3699.6,1107.3 3706.4,1116.4 C3713.2,1125.5 3709.3,1149.3 3716.6,1157.2 C3723.8,1165.1 3744.3,1162.8 3749.9,1163.9 C3755.5,1165.0 3743.2,1161.6 3750.0,1163.9 C3756.8,1166.2 3780.0,1171.3 3790.8,1177.5 C3801.6,1183.7 3812.3,1193.4 3814.6,1201.3 C3816.9,1209.2 3811.8,1216.0 3804.4,1225.1 C3797.0,1234.2 3777.8,1246.6 3770.4,1255.7 C3763.0,1264.8 3757.4,1271.0 3760.2,1279.5 C3763.0,1288.0 3781.2,1295.9 3787.4,1306.7 C3793.6,1317.5 3798.7,1335.6 3797.6,1344.1 C3796.5,1352.6 3784.0,1351.5 3780.6,1357.7 C3777.2,1363.9 3775.5,1374.7 3777.2,1381.5 C3778.9,1388.3 3784.0,1393.9 3790.8,1398.4 C3797.6,1402.9 3812.3,1399.5 3818.0,1408.6 C3823.7,1417.7 3824.8,1442.6 3824.8,1452.8 C3824.8,1463.0 3815.7,1461.9 3818.0,1469.8 C3820.3,1477.7 3842.9,1491.9 3838.4,1500.4 C3833.9,1508.9 3802.1,1515.4 3790.8,1520.8 C3779.5,1526.2 3769.8,1527.9 3770.4,1533.0 C3771.0,1538.1 3786.3,1545.5 3794.2,1551.4 C3802.1,1557.3 3811.2,1561.6 3818.0,1568.4 C3824.8,1575.2 3836.7,1582.0 3835.0,1592.2 C3833.3,1602.4 3810.6,1614.8 3807.8,1629.5 C3805.0,1644.2 3811.8,1670.9 3818.0,1680.5 C3824.2,1690.1 3836.1,1685.6 3845.2,1687.3 C3854.2,1689.0 3863.8,1691.0 3872.3,1690.7 C3880.8,1690.4 3895.0,1682.5 3896.1,1685.3 C3897.2,1688.1 3880.8,1696.0 3879.1,1707.7 C3877.4,1719.4 3883.1,1739.4 3885.9,1755.3 C3888.7,1771.2 3890.4,1793.3 3896.1,1802.9 C3901.8,1812.5 3914.8,1806.9 3919.9,1813.1 C3925.0,1819.3 3916.5,1834.0 3926.7,1840.2 C3936.9,1846.4 3964.7,1844.2 3981.1,1850.4 C3997.5,1856.6 4026.4,1868.0 4025.3,1877.6 C4024.2,1887.2 3988.5,1899.7 3974.3,1908.2 C3960.1,1916.7 3948.2,1921.8 3940.3,1928.6 C3932.4,1935.4 3928.7,1939.4 3926.7,1949.0 C3924.7,1958.6 3927.9,1980.2 3928.1,1986.4" stroke="#3c8a27" stroke-width="5"/>
<path d="M4130.6,97.4 C4135.1,99.3 4149.9,103.8 4157.8,108.9 C4165.7,114.0 4175.4,122.0 4178.2,128.0 C4181.0,134.0 4178.2,141.6 4174.8,145.0 C4171.4,148.4 4160.1,145.6 4157.8,148.4 C4155.5,151.2 4162.9,159.2 4161.2,162.0 C4159.5,164.8 4150.4,159.8 4147.6,165.4 C4144.8,171.1 4139.7,189.9 4144.2,195.9 C4148.7,201.9 4161.2,197.4 4174.8,201.4 C4188.4,205.4 4211.6,215.5 4225.8,219.7 C4240.0,223.9 4250.2,222.8 4259.8,226.5 C4269.4,230.2 4281.3,237.1 4283.6,242.2 C4285.9,247.3 4276.8,250.1 4273.4,257.1 C4270.0,264.1 4268.9,274.7 4263.2,284.3 C4257.5,293.9 4246.8,304.7 4239.4,314.9 C4232.0,325.1 4221.5,335.3 4219.0,345.5 C4216.5,355.7 4226.4,364.8 4224.4,376.1 C4222.4,387.4 4206.6,404.3 4206.8,413.4 C4207.0,422.4 4220.2,424.2 4225.8,430.4 C4231.4,436.6 4239.6,443.4 4240.7,450.8 C4241.8,458.2 4236.5,466.1 4232.6,474.6 C4228.8,483.1 4216.5,495.2 4217.6,501.8 C4218.7,508.4 4231.2,514.6 4239.4,514.0 C4247.6,513.4 4258.7,502.1 4266.6,498.4 C4274.5,494.7 4280.8,491.0 4287.0,491.6 C4293.2,492.2 4298.4,499.5 4304.0,501.8 C4309.6,504.1 4313.5,501.8 4320.9,505.2 C4328.2,508.6 4342.4,516.5 4348.1,522.2 C4353.8,527.9 4352.1,534.9 4354.9,539.2 C4357.7,543.5 4363.4,546.5 4365.1,548.0" stroke="#3c8a27" stroke-width="5"/>
<path d="M4365.1,548.0 C4369.1,544.8 4379.8,536.7 4388.9,529.0 C4398.0,521.3 4408.2,508.0 4419.5,501.8 C4430.8,495.6 4446.7,493.3 4456.9,491.6 C4467.1,489.9 4470.5,488.8 4480.7,491.6 C4490.9,494.4 4508.5,502.9 4518.1,508.6 C4527.7,514.3 4532.9,521.1 4538.5,525.6 C4544.1,530.1 4550.9,530.7 4552.0,535.8 C4553.1,540.9 4541.8,547.1 4545.2,556.2 C4548.6,565.3 4566.7,575.5 4572.4,590.2 C4578.1,604.9 4574.1,632.0 4579.2,644.5 C4584.3,657.0 4599.0,661.5 4603.0,664.9" stroke="#3c8a27" stroke-width="5"/>
<path d="M4365.1,548.0 C4362.3,551.1 4355.5,561.1 4348.1,566.4 C4340.7,571.7 4328.2,572.6 4320.9,580.0 C4313.5,587.4 4308.5,601.0 4304.0,610.6 C4299.5,620.2 4298.3,629.8 4293.8,637.7 C4289.3,645.6 4280.8,650.2 4276.8,658.1 C4272.8,666.0 4273.4,676.2 4270.0,685.3 C4266.6,694.4 4262.1,708.5 4256.4,712.5 C4250.7,716.5 4242.8,711.4 4236.0,709.1 C4229.2,706.8 4221.8,700.6 4215.6,698.9 C4209.4,697.2 4206.0,702.1 4198.6,698.9 C4191.2,695.7 4180.5,682.2 4171.4,679.9 C4162.3,677.6 4153.3,685.3 4144.2,685.3 C4135.1,685.3 4123.8,679.3 4117.0,679.9 C4110.2,680.5 4106.8,684.4 4103.4,688.7 C4100.0,693.0 4100.0,698.9 4096.6,705.7 C4093.2,712.5 4085.9,722.7 4083.1,729.5 C4080.3,736.3 4082.0,739.7 4079.7,746.5 C4077.4,753.3 4078.0,762.9 4069.5,770.3 C4061.0,777.7 4040.0,784.5 4028.7,790.7 C4017.4,796.9 4011.7,803.7 4001.5,807.7 C3991.3,811.7 3977.1,808.3 3967.5,814.5 C3957.9,820.7 3955.0,838.9 3943.7,845.1 C3932.4,851.3 3908.6,852.5 3899.5,851.9 C3890.4,851.3 3888.7,837.8 3889.3,841.7 C3889.9,845.7 3904.0,866.6 3902.9,875.6 C3901.8,884.6 3889.3,887.5 3882.5,896.0 C3875.7,904.5 3870.7,915.3 3862.2,926.6 C3853.7,937.9 3844.6,952.1 3831.6,964.0 C3818.6,975.9 3797.6,990.1 3784.0,998.0 C3770.4,1005.9 3758.4,1008.2 3750.0,1011.6 C3741.6,1015.0 3737.5,1013.9 3733.6,1018.4 C3729.7,1022.9 3727.9,1035.4 3726.8,1038.8" stroke="#3c8a27" stroke-width="5"/>
<path d="M4603.0,819.9 C4596.8,820.7 4578.6,818.8 4565.6,824.7 C4552.6,830.6 4531.1,841.6 4524.9,855.2 C4518.7,868.8 4530.0,889.2 4528.3,906.2 C4526.6,923.2 4517.5,940.8 4514.7,957.2 C4511.9,973.6 4513.6,990.2 4511.3,1004.8 C4509.0,1019.4 4502.8,1038.2 4501.1,1044.9 C4499.4,1051.6 4505.6,1037.0 4501.1,1045.0 C4496.6,1053.0 4482.4,1077.9 4473.9,1092.6 C4465.4,1107.3 4463.1,1121.5 4450.1,1133.4 C4437.1,1145.3 4412.7,1158.2 4395.7,1163.9 C4378.7,1169.6 4362.8,1161.6 4348.1,1167.3 C4333.4,1173.0 4323.2,1190.5 4307.4,1197.9 C4291.5,1205.3 4272.3,1206.4 4253.0,1211.5 C4233.7,1216.6 4208.8,1227.4 4191.8,1228.5 C4174.8,1229.6 4160.6,1216.6 4151.0,1218.3 C4141.4,1220.0 4136.3,1231.3 4134.0,1238.7 C4131.7,1246.1 4135.1,1255.7 4137.4,1262.5 C4139.7,1269.3 4153.3,1275.2 4147.6,1279.5 C4141.9,1283.8 4118.7,1285.5 4103.4,1288.3 C4088.1,1291.1 4068.3,1298.5 4055.9,1296.5 C4043.5,1294.5 4036.1,1282.3 4028.7,1276.1 C4021.3,1269.9 4017.9,1260.8 4011.7,1259.1 C4005.5,1257.4 3995.8,1260.2 3991.3,1265.9 C3986.8,1271.6 3988.7,1286.3 3984.5,1293.1 C3980.3,1299.9 3968.4,1300.5 3966.1,1306.7 C3963.8,1312.9 3978.6,1324.5 3970.9,1330.5 C3963.2,1336.5 3939.7,1337.6 3919.9,1342.7 C3900.1,1347.8 3871.8,1359.2 3852.0,1361.1 C3832.2,1363.0 3812.9,1354.9 3801.0,1354.3 C3789.1,1353.7 3784.0,1357.1 3780.6,1357.7" stroke="#3c8a27" stroke-width="5"/>
<path d="M2890.8,1813.1 C2894.8,1816.5 2908.9,1825.6 2914.6,1833.5 C2920.3,1841.4 2923.1,1856.1 2924.8,1860.6" stroke="#3c8a27" stroke-width="5"/>
<path d="M3002.9,1962.6 L3023.3,1986.4" stroke="#3c8a27" stroke-width="5"/>
<path d="M3465.1,97.4 C3466.2,101.9 3473.0,113.8 3471.9,124.6 C3470.8,135.4 3456.6,150.7 3458.3,162.0 C3460.0,173.3 3476.4,179.5 3482.1,192.5 C3487.8,205.5 3495.7,225.4 3492.3,240.1 C3488.9,254.8 3468.5,267.3 3461.7,280.9 C3454.9,294.5 3452.6,308.1 3451.5,321.7 C3450.4,335.3 3451.5,354.6 3454.9,362.5 C3458.3,370.4 3469.1,364.2 3471.9,369.3 C3474.7,374.4 3475.9,382.9 3471.9,393.1 C3467.9,403.3 3454.9,420.2 3448.1,430.4 C3441.3,440.6 3433.9,448.0 3431.1,454.2 C3428.3,460.4 3437.3,462.4 3431.1,467.8 C3424.9,473.2 3407.4,479.5 3393.8,486.9 C3380.2,494.3 3359.2,503.9 3349.6,512.0 C3340.0,520.1 3341.1,530.1 3336.0,535.8 C3330.9,541.5 3328.8,541.7 3319.0,546.0 C3309.2,550.3 3283.7,553.1 3276.9,561.6 C3270.1,570.1 3275.7,586.6 3278.2,597.0 C3280.7,607.4 3286.1,617.4 3291.8,624.2 C3297.5,631.0 3310.5,633.2 3312.2,637.7 C3313.9,642.2 3303.1,641.1 3302.0,651.3 C3300.9,661.5 3308.2,683.0 3305.4,698.9 C3302.6,714.8 3289.5,731.8 3285.0,746.5 C3280.5,761.2 3286.1,773.1 3278.2,787.3 C3270.3,801.5 3249.9,816.8 3237.4,831.5 C3224.9,846.2 3212.5,860.3 3203.4,875.6 C3194.3,890.9 3188.8,908.5 3183.1,923.2 C3177.4,937.9 3170.9,949.3 3169.5,964.0 C3168.1,978.7 3178.3,999.7 3174.9,1011.6 C3171.5,1023.5 3152.5,1029.9 3149.1,1035.4 C3145.7,1041.0 3152.5,1043.3 3154.5,1044.9 C3156.5,1046.5 3159.4,1041.6 3161.3,1045.0 C3163.2,1048.4 3166.4,1055.8 3166.1,1065.4 C3165.8,1075.0 3159.3,1093.7 3159.3,1102.8 C3159.3,1111.9 3168.9,1113.0 3166.1,1119.8 C3163.3,1126.6 3141.7,1134.5 3142.3,1143.6 C3142.9,1152.6 3173.5,1164.5 3169.5,1174.1 C3165.5,1183.7 3136.6,1197.9 3118.5,1201.3 C3100.4,1204.7 3080.0,1195.8 3060.7,1194.5 C3041.4,1193.2 3017.6,1191.2 3002.9,1193.2 C2988.2,1195.2 2981.9,1204.3 2972.3,1206.8 C2962.7,1209.3 2957.6,1210.9 2945.2,1208.1 C2932.8,1205.3 2905.5,1192.8 2897.6,1189.8" stroke="#fff" stroke-width="2.4" stroke-dasharray="7 55" stroke-linecap="butt"/>
<path d="M3509.3,97.4 C3508.7,104.2 3503.6,129.7 3505.9,138.2 C3508.2,146.7 3519.5,141.1 3522.9,148.4 C3526.3,155.8 3528.0,175.5 3526.3,182.3 C3524.6,189.1 3512.1,181.2 3512.7,189.1 C3513.3,197.0 3524.6,221.4 3529.7,229.9 C3534.8,238.4 3543.9,232.2 3543.3,240.1 C3542.7,248.0 3528.6,267.9 3526.3,277.5 C3524.0,287.1 3525.7,291.7 3529.7,297.9 C3533.7,304.1 3545.0,304.7 3550.1,314.9 C3555.2,325.1 3554.1,351.7 3560.3,359.1 C3566.5,366.5 3581.3,354.6 3587.5,359.1 C3593.7,363.6 3596.6,373.9 3597.7,386.3 C3598.8,398.8 3602.2,420.2 3594.3,433.8 C3586.4,447.4 3563.7,456.5 3550.1,467.8 C3536.5,479.1 3521.8,493.3 3512.7,501.8 C3503.6,510.3 3499.4,511.4 3495.7,518.8 C3492.0,526.2 3489.7,538.1 3490.3,546.0 C3490.9,553.9 3500.5,557.9 3499.1,566.4 C3497.7,574.9 3487.2,585.1 3482.1,597.0 C3477.0,608.9 3473.6,625.2 3468.5,637.7 C3463.4,650.2 3454.9,662.6 3451.5,671.7 C3448.1,680.8 3452.1,686.4 3448.1,692.1 C3444.1,697.8 3431.1,698.9 3427.7,705.7 C3424.3,712.5 3431.1,721.6 3427.7,732.9 C3424.3,744.2 3416.4,763.5 3407.4,773.7 C3398.4,783.9 3379.3,785.0 3373.4,794.1 C3367.5,803.2 3365.2,821.3 3372.0,828.1 C3378.8,834.9 3398.7,832.6 3414.2,834.9 C3429.7,837.2 3454.9,834.9 3465.1,841.7 C3475.3,848.5 3475.3,867.1 3475.3,875.6 C3475.3,884.1 3469.6,886.4 3465.1,892.6 C3460.6,898.8 3447.5,907.9 3448.1,913.0 C3448.7,918.1 3464.5,917.0 3468.5,923.2 C3472.5,929.4 3468.5,943.0 3471.9,950.4 C3475.3,957.8 3479.3,963.4 3488.9,967.4 C3498.5,971.4 3520.6,971.4 3529.7,974.2 C3538.8,977.0 3534.2,982.5 3543.3,984.4 C3552.4,986.3 3570.5,986.4 3584.1,985.8 C3597.7,985.2 3617.0,984.6 3624.9,981.0 C3632.8,977.4 3624.9,968.0 3631.7,964.0 C3638.5,960.0 3658.2,960.6 3665.6,957.2 C3672.9,953.8 3670.1,946.4 3675.8,943.6 C3681.5,940.8 3695.1,936.8 3699.6,940.2 C3704.1,943.6 3698.5,961.2 3703.0,964.0 C3707.5,966.8 3720.6,959.5 3726.8,957.2 C3733.0,954.9 3736.6,952.7 3740.4,950.4 C3744.2,948.1 3748.3,944.7 3749.9,943.6 C3751.5,942.5 3748.8,943.0 3750.0,943.6 C3751.2,944.2 3755.7,946.4 3756.8,947.0" stroke="#fff" stroke-width="2.4" stroke-dasharray="7 55" stroke-linecap="butt"/>
<path d="M3757.4,945.0 C3753.4,951.6 3739.3,973.3 3733.6,984.4 C3727.9,995.5 3721.1,1004.2 3723.4,1011.6 C3725.7,1019.0 3742.8,1023.0 3747.2,1028.6 C3751.6,1034.1 3749.4,1042.2 3749.9,1044.9 C3750.4,1047.6 3759.4,1041.6 3749.9,1045.0 C3740.4,1048.4 3706.3,1059.7 3692.8,1065.4 C3679.3,1071.1 3671.8,1072.8 3669.0,1079.0 C3666.2,1085.2 3669.6,1096.6 3675.8,1102.8 C3682.0,1109.0 3699.6,1107.3 3706.4,1116.4 C3713.2,1125.5 3709.3,1149.3 3716.6,1157.2 C3723.8,1165.1 3744.3,1162.8 3749.9,1163.9 C3755.5,1165.0 3743.2,1161.6 3750.0,1163.9 C3756.8,1166.2 3780.0,1171.3 3790.8,1177.5 C3801.6,1183.7 3812.3,1193.4 3814.6,1201.3 C3816.9,1209.2 3811.8,1216.0 3804.4,1225.1 C3797.0,1234.2 3777.8,1246.6 3770.4,1255.7 C3763.0,1264.8 3757.4,1271.0 3760.2,1279.5 C3763.0,1288.0 3781.2,1295.9 3787.4,1306.7 C3793.6,1317.5 3798.7,1335.6 3797.6,1344.1 C3796.5,1352.6 3784.0,1351.5 3780.6,1357.7 C3777.2,1363.9 3775.5,1374.7 3777.2,1381.5 C3778.9,1388.3 3784.0,1393.9 3790.8,1398.4 C3797.6,1402.9 3812.3,1399.5 3818.0,1408.6 C3823.7,1417.7 3824.8,1442.6 3824.8,1452.8 C3824.8,1463.0 3815.7,1461.9 3818.0,1469.8 C3820.3,1477.7 3842.9,1491.9 3838.4,1500.4 C3833.9,1508.9 3802.1,1515.4 3790.8,1520.8 C3779.5,1526.2 3769.8,1527.9 3770.4,1533.0 C3771.0,1538.1 3786.3,1545.5 3794.2,1551.4 C3802.1,1557.3 3811.2,1561.6 3818.0,1568.4 C3824.8,1575.2 3836.7,1582.0 3835.0,1592.2 C3833.3,1602.4 3810.6,1614.8 3807.8,1629.5 C3805.0,1644.2 3811.8,1670.9 3818.0,1680.5 C3824.2,1690.1 3836.1,1685.6 3845.2,1687.3 C3854.2,1689.0 3863.8,1691.0 3872.3,1690.7 C3880.8,1690.4 3895.0,1682.5 3896.1,1685.3 C3897.2,1688.1 3880.8,1696.0 3879.1,1707.7 C3877.4,1719.4 3883.1,1739.4 3885.9,1755.3 C3888.7,1771.2 3890.4,1793.3 3896.1,1802.9 C3901.8,1812.5 3914.8,1806.9 3919.9,1813.1 C3925.0,1819.3 3916.5,1834.0 3926.7,1840.2 C3936.9,1846.4 3964.7,1844.2 3981.1,1850.4 C3997.5,1856.6 4026.4,1868.0 4025.3,1877.6 C4024.2,1887.2 3988.5,1899.7 3974.3,1908.2 C3960.1,1916.7 3948.2,1921.8 3940.3,1928.6 C3932.4,1935.4 3928.7,1939.4 3926.7,1949.0 C3924.7,1958.6 3927.9,1980.2 3928.1,1986.4" stroke="#fff" stroke-width="2.4" stroke-dasharray="7 55" stroke-linecap="butt"/>
<path d="M4130.6,97.4 C4135.1,99.3 4149.9,103.8 4157.8,108.9 C4165.7,114.0 4175.4,122.0 4178.2,128.0 C4181.0,134.0 4178.2,141.6 4174.8,145.0 C4171.4,148.4 4160.1,145.6 4157.8,148.4 C4155.5,151.2 4162.9,159.2 4161.2,162.0 C4159.5,164.8 4150.4,159.8 4147.6,165.4 C4144.8,171.1 4139.7,189.9 4144.2,195.9 C4148.7,201.9 4161.2,197.4 4174.8,201.4 C4188.4,205.4 4211.6,215.5 4225.8,219.7 C4240.0,223.9 4250.2,222.8 4259.8,226.5 C4269.4,230.2 4281.3,237.1 4283.6,242.2 C4285.9,247.3 4276.8,250.1 4273.4,257.1 C4270.0,264.1 4268.9,274.7 4263.2,284.3 C4257.5,293.9 4246.8,304.7 4239.4,314.9 C4232.0,325.1 4221.5,335.3 4219.0,345.5 C4216.5,355.7 4226.4,364.8 4224.4,376.1 C4222.4,387.4 4206.6,404.3 4206.8,413.4 C4207.0,422.4 4220.2,424.2 4225.8,430.4 C4231.4,436.6 4239.6,443.4 4240.7,450.8 C4241.8,458.2 4236.5,466.1 4232.6,474.6 C4228.8,483.1 4216.5,495.2 4217.6,501.8 C4218.7,508.4 4231.2,514.6 4239.4,514.0 C4247.6,513.4 4258.7,502.1 4266.6,498.4 C4274.5,494.7 4280.8,491.0 4287.0,491.6 C4293.2,492.2 4298.4,499.5 4304.0,501.8 C4309.6,504.1 4313.5,501.8 4320.9,505.2 C4328.2,508.6 4342.4,516.5 4348.1,522.2 C4353.8,527.9 4352.1,534.9 4354.9,539.2 C4357.7,543.5 4363.4,546.5 4365.1,548.0" stroke="#fff" stroke-width="2.4" stroke-dasharray="7 55" stroke-linecap="butt"/>
<path d="M4365.1,548.0 C4369.1,544.8 4379.8,536.7 4388.9,529.0 C4398.0,521.3 4408.2,508.0 4419.5,501.8 C4430.8,495.6 4446.7,493.3 4456.9,491.6 C4467.1,489.9 4470.5,488.8 4480.7,491.6 C4490.9,494.4 4508.5,502.9 4518.1,508.6 C4527.7,514.3 4532.9,521.1 4538.5,525.6 C4544.1,530.1 4550.9,530.7 4552.0,535.8 C4553.1,540.9 4541.8,547.1 4545.2,556.2 C4548.6,565.3 4566.7,575.5 4572.4,590.2 C4578.1,604.9 4574.1,632.0 4579.2,644.5 C4584.3,657.0 4599.0,661.5 4603.0,664.9" stroke="#fff" stroke-width="2.4" stroke-dasharray="7 55" stroke-linecap="butt"/>
<path d="M4365.1,548.0 C4362.3,551.1 4355.5,561.1 4348.1,566.4 C4340.7,571.7 4328.2,572.6 4320.9,580.0 C4313.5,587.4 4308.5,601.0 4304.0,610.6 C4299.5,620.2 4298.3,629.8 4293.8,637.7 C4289.3,645.6 4280.8,650.2 4276.8,658.1 C4272.8,666.0 4273.4,676.2 4270.0,685.3 C4266.6,694.4 4262.1,708.5 4256.4,712.5 C4250.7,716.5 4242.8,711.4 4236.0,709.1 C4229.2,706.8 4221.8,700.6 4215.6,698.9 C4209.4,697.2 4206.0,702.1 4198.6,698.9 C4191.2,695.7 4180.5,682.2 4171.4,679.9 C4162.3,677.6 4153.3,685.3 4144.2,685.3 C4135.1,685.3 4123.8,679.3 4117.0,679.9 C4110.2,680.5 4106.8,684.4 4103.4,688.7 C4100.0,693.0 4100.0,698.9 4096.6,705.7 C4093.2,712.5 4085.9,722.7 4083.1,729.5 C4080.3,736.3 4082.0,739.7 4079.7,746.5 C4077.4,753.3 4078.0,762.9 4069.5,770.3 C4061.0,777.7 4040.0,784.5 4028.7,790.7 C4017.4,796.9 4011.7,803.7 4001.5,807.7 C3991.3,811.7 3977.1,808.3 3967.5,814.5 C3957.9,820.7 3955.0,838.9 3943.7,845.1 C3932.4,851.3 3908.6,852.5 3899.5,851.9 C3890.4,851.3 3888.7,837.8 3889.3,841.7 C3889.9,845.7 3904.0,866.6 3902.9,875.6 C3901.8,884.6 3889.3,887.5 3882.5,896.0 C3875.7,904.5 3870.7,915.3 3862.2,926.6 C3853.7,937.9 3844.6,952.1 3831.6,964.0 C3818.6,975.9 3797.6,990.1 3784.0,998.0 C3770.4,1005.9 3758.4,1008.2 3750.0,1011.6 C3741.6,1015.0 3737.5,1013.9 3733.6,1018.4 C3729.7,1022.9 3727.9,1035.4 3726.8,1038.8" stroke="#fff" stroke-width="2.4" stroke-dasharray="7 55" stroke-linecap="butt"/>
<path d="M4603.0,819.9 C4596.8,820.7 4578.6,818.8 4565.6,824.7 C4552.6,830.6 4531.1,841.6 4524.9,855.2 C4518.7,868.8 4530.0,889.2 4528.3,906.2 C4526.6,923.2 4517.5,940.8 4514.7,957.2 C4511.9,973.6 4513.6,990.2 4511.3,1004.8 C4509.0,1019.4 4502.8,1038.2 4501.1,1044.9 C4499.4,1051.6 4505.6,1037.0 4501.1,1045.0 C4496.6,1053.0 4482.4,1077.9 4473.9,1092.6 C4465.4,1107.3 4463.1,1121.5 4450.1,1133.4 C4437.1,1145.3 4412.7,1158.2 4395.7,1163.9 C4378.7,1169.6 4362.8,1161.6 4348.1,1167.3 C4333.4,1173.0 4323.2,1190.5 4307.4,1197.9 C4291.5,1205.3 4272.3,1206.4 4253.0,1211.5 C4233.7,1216.6 4208.8,1227.4 4191.8,1228.5 C4174.8,1229.6 4160.6,1216.6 4151.0,1218.3 C4141.4,1220.0 4136.3,1231.3 4134.0,1238.7 C4131.7,1246.1 4135.1,1255.7 4137.4,1262.5 C4139.7,1269.3 4153.3,1275.2 4147.6,1279.5 C4141.9,1283.8 4118.7,1285.5 4103.4,1288.3 C4088.1,1291.1 4068.3,1298.5 4055.9,1296.5 C4043.5,1294.5 4036.1,1282.3 4028.7,1276.1 C4021.3,1269.9 4017.9,1260.8 4011.7,1259.1 C4005.5,1257.4 3995.8,1260.2 3991.3,1265.9 C3986.8,1271.6 3988.7,1286.3 3984.5,1293.1 C3980.3,1299.9 3968.4,1300.5 3966.1,1306.7 C3963.8,1312.9 3978.6,1324.5 3970.9,1330.5 C3963.2,1336.5 3939.7,1337.6 3919.9,1342.7 C3900.1,1347.8 3871.8,1359.2 3852.0,1361.1 C3832.2,1363.0 3812.9,1354.9 3801.0,1354.3 C3789.1,1353.7 3784.0,1357.1 3780.6,1357.7" stroke="#fff" stroke-width="2.4" stroke-dasharray="7 55" stroke-linecap="butt"/>
<path d="M2890.8,1813.1 C2894.8,1816.5 2908.9,1825.6 2914.6,1833.5 C2920.3,1841.4 2923.1,1856.1 2924.8,1860.6" stroke="#fff" stroke-width="2.4" stroke-dasharray="7 55" stroke-linecap="butt"/>
<path d="M3002.9,1962.6 L3023.3,1986.4" stroke="#fff" stroke-width="2.4" stroke-dasharray="7 55" stroke-linecap="butt"/>
</g>
</g>
<rect x="2900.5" y="102.5" width="1695.5" height="1877.0" fill="none" stroke="#222" stroke-width="2.5"/>
<rect x="2857" y="65.5" width="1783.5" height="1951.5" fill="none" stroke="#111" stroke-width="2.6"/>
<path d="M3008,86.5 V102.5 M3008,1979.5 V1995.5 M3367.5,86.5 V102.5 M3367.5,1979.5 V1995.5 M3727,86.5 V102.5 M3727,1979.5 V1995.5 M4088,86.5 V102.5 M4088,1979.5 V1995.5 M4448,86.5 V102.5 M4448,1979.5 V1995.5 M2884.5,330 H2900.5 M4596,330 H4614 M2884.5,631 H2900.5 M4596,631 H4614 M2884.5,932 H2900.5 M4596,932 H4614 M2884.5,1233.5 H2900.5 M4596,1233.5 H4614 M2884.5,1534.5 H2900.5 M4596,1534.5 H4614 M2884.5,1835.5 H2900.5 M4596,1835.5 H4614 " stroke="#111" stroke-width="2.6" fill="none"/>
<text x="3008" y="87" font-size="18.5" font-weight="bold" text-anchor="middle" fill="#111" textLength="92" lengthAdjust="spacingAndGlyphs">1095000</text>
<text x="3367.5" y="87" font-size="18.5" font-weight="bold" text-anchor="middle" fill="#111" textLength="92" lengthAdjust="spacingAndGlyphs">1100000</text>
<text x="3727" y="87" font-size="18.5" font-weight="bold" text-anchor="middle" fill="#111" textLength="92" lengthAdjust="spacingAndGlyphs">1105000</text>
<text x="4088" y="87" font-size="18.5" font-weight="bold" text-anchor="middle" fill="#111" textLength="92" lengthAdjust="spacingAndGlyphs">1110000</text>
<text x="4448" y="87" font-size="18.5" font-weight="bold" text-anchor="middle" fill="#111" textLength="92" lengthAdjust="spacingAndGlyphs">1115000</text>
<text transform="translate(2881,330) rotate(-90)" font-size="18.5" font-weight="bold" text-anchor="middle" textLength="78" lengthAdjust="spacingAndGlyphs" fill="#111">1285000</text>
<text transform="translate(2881,631) rotate(-90)" font-size="18.5" font-weight="bold" text-anchor="middle" textLength="78" lengthAdjust="spacingAndGlyphs" fill="#111">1280000</text>
<text transform="translate(2881,932) rotate(-90)" font-size="18.5" font-weight="bold" text-anchor="middle" textLength="78" lengthAdjust="spacingAndGlyphs" fill="#111">1275000</text>
<text transform="translate(2881,1233.5) rotate(-90)" font-size="18.5" font-weight="bold" text-anchor="middle" textLength="78" lengthAdjust="spacingAndGlyphs" fill="#111">1270000</text>
<text transform="translate(2881,1534.5) rotate(-90)" font-size="18.5" font-weight="bold" text-anchor="middle" textLength="78" lengthAdjust="spacingAndGlyphs" fill="#111">1265000</text>
<text transform="translate(2881,1835.5) rotate(-90)" font-size="18.5" font-weight="bold" text-anchor="middle" textLength="78" lengthAdjust="spacingAndGlyphs" fill="#111">1260000</text>
<g filter="url(#soft)">
<text x="3757" y="609" font-size="36" font-family="'DejaVu Sans', 'Liberation Sans', sans-serif" textLength="340" lengthAdjust="spacingAndGlyphs" fill="#1a1a1a" stroke="#1a1a1a" stroke-width="0.8">Bucaramanga</text>
<circle cx="3744" cy="609" r="6" fill="#111"/>
<text x="3402" y="1037" font-size="30" font-family="'DejaVu Sans', 'Liberation Sans', sans-serif" textLength="98" lengthAdjust="spacingAndGlyphs" fill="#1a1a1a" stroke="#1a1a1a" stroke-width="0.8">Girón</text>
<circle cx="3394" cy="1015" r="4.5" fill="#111"/>
<text x="4073" y="1098" font-size="33" font-family="'DejaVu Sans', 'Liberation Sans', sans-serif" textLength="301" lengthAdjust="spacingAndGlyphs" fill="#1a1a1a" stroke="#1a1a1a" stroke-width="0.8">Floridablanca</text>
<circle cx="4066" cy="1069" r="4.5" fill="#111"/>
<text x="4105.5" y="1597" font-size="30" font-family="'DejaVu Sans', 'Liberation Sans', sans-serif" textLength="231" lengthAdjust="spacingAndGlyphs" fill="#222" stroke="#222" stroke-width="0.8">Piedecuesta</text>
<g clip-path="url(#mapclip)">
<text x="2880" y="718" font-size="30" font-family="'DejaVu Sans', 'Liberation Sans', sans-serif" textLength="121" lengthAdjust="spacingAndGlyphs" fill="#1a1a1a" stroke="#1a1a1a" stroke-width="0.8">Lebrija</text>
</g>
<circle cx="3008" cy="718" r="3" fill="#111"/>
<text x="3114" y="645" font-size="19" font-style="italic" fill="#555" textLength="148" lengthAdjust="spacing">PALONEGRO</text>
<text x="3158" y="664" font-size="19" font-style="italic" fill="#555" textLength="102" lengthAdjust="spacing">AIRPORT</text>
<g transform="translate(3271.5,622)" fill="#e8232a"><path d="M-2.2,-17 Q0,-20 2.2,-17 L2.6,-4 L19,0.5 L19,4 L2.6,2 L2,11 L8,13 L8,15.5 L-8,15.5 L-8,13 L-2,11 L-2.6,2 L-19,4 L-19,0.5 L-2.6,-4 Z"/></g>
</g>
<ellipse cx="3665.5" cy="485.7" rx="30.8" ry="26.5" fill="#00c1f7"/>
<text x="3665.5" y="495.7" font-size="29" font-weight="bold" text-anchor="middle" fill="#111" textLength="19" lengthAdjust="spacingAndGlyphs">4</text>
<ellipse cx="3667" cy="612" rx="30.8" ry="26.5" fill="#00c1f7"/>
<text x="3667" y="622" font-size="29" font-weight="bold" text-anchor="middle" fill="#111" textLength="19" lengthAdjust="spacingAndGlyphs">3</text>
<ellipse cx="3855" cy="716" rx="30.8" ry="26.5" fill="#00c1f7"/>
<text x="3855" y="726" font-size="29" font-weight="bold" text-anchor="middle" fill="#111" textLength="19" lengthAdjust="spacingAndGlyphs">2</text>
<ellipse cx="4353.5" cy="1577.5" rx="30.8" ry="26.5" fill="#00c1f7"/>
<text x="4353.5" y="1586.0" font-size="29" font-weight="bold" text-anchor="middle" fill="#111" textLength="19" lengthAdjust="spacingAndGlyphs">1</text>
<g transform="translate(4448.5,331)">
<circle r="45" fill="#fff" opacity="0.55" filter="url(#soft)"/>
<circle r="38" fill="#fff" stroke="#fff" stroke-width="7"/>
<circle r="37" fill="none" stroke="#1a1a1a" stroke-width="3.4"/><circle r="31.5" fill="none" stroke="#1a1a1a" stroke-width="1.1"/>
<path d="M0,0 L0.0,-6.0 L9.6,-23.1 Z" fill="#1a1a1a" stroke="#1a1a1a" stroke-width="0.7"/><path d="M0,0 L4.2,-4.2 L9.6,-23.1 Z" fill="#fff" stroke="#1a1a1a" stroke-width="0.7"/><path d="M0,0 L4.2,-4.2 L23.1,-9.6 Z" fill="#1a1a1a" stroke="#1a1a1a" stroke-width="0.7"/><path d="M0,0 L6.0,-0.0 L23.1,-9.6 Z" fill="#fff" stroke="#1a1a1a" stroke-width="0.7"/><path d="M0,0 L6.0,-0.0 L23.1,9.6 Z" fill="#1a1a1a" stroke="#1a1a1a" stroke-width="0.7"/><path d="M0,0 L4.2,4.2 L23.1,9.6 Z" fill="#fff" stroke="#1a1a1a" stroke-width="0.7"/><path d="M0,0 L4.2,4.2 L9.6,23.1 Z" fill="#1a1a1a" stroke="#1a1a1a" stroke-width="0.7"/><path d="M0,0 L0.0,6.0 L9.6,23.1 Z" fill="#fff" stroke="#1a1a1a" stroke-width="0.7"/><path d="M0,0 L0.0,6.0 L-9.6,23.1 Z" fill="#1a1a1a" stroke="#1a1a1a" stroke-width="0.7"/><path d="M0,0 L-4.2,4.2 L-9.6,23.1 Z" fill="#fff" stroke="#1a1a1a" stroke-width="0.7"/><path d="M0,0 L-4.2,4.2 L-23.1,9.6 Z" fill="#1a1a1a" stroke="#1a1a1a" stroke-width="0.7"/><path d="M0,0 L-6.0,0.0 L-23.1,9.6 Z" fill="#fff" stroke="#1a1a1a" stroke-width="0.7"/><path d="M0,0 L-6.0,0.0 L-23.1,-9.6 Z" fill="#1a1a1a" stroke="#1a1a1a" stroke-width="0.7"/><path d="M0,0 L-4.2,-4.2 L-23.1,-9.6 Z" fill="#fff" stroke="#1a1a1a" stroke-width="0.7"/><path d="M0,0 L-4.2,-4.2 L-9.6,-23.1 Z" fill="#1a1a1a" stroke="#1a1a1a" stroke-width="0.7"/><path d="M0,0 L-0.0,-6.0 L-9.6,-23.1 Z" fill="#fff" stroke="#1a1a1a" stroke-width="0.7"/>
<path d="M0,0 L0.0,-7.5 L23.3,-23.3 Z" fill="#1a1a1a" stroke="#1a1a1a" stroke-width="0.7"/><path d="M0,0 L7.5,-0.0 L23.3,-23.3 Z" fill="#fff" stroke="#1a1a1a" stroke-width="0.7"/><path d="M0,0 L7.5,-0.0 L23.3,23.3 Z" fill="#1a1a1a" stroke="#1a1a1a" stroke-width="0.7"/><path d="M0,0 L0.0,7.5 L23.3,23.3 Z" fill="#fff" stroke="#1a1a1a" stroke-width="0.7"/><path d="M0,0 L0.0,7.5 L-23.3,23.3 Z" fill="#1a1a1a" stroke="#1a1a1a" stroke-width="0.7"/><path d="M0,0 L-7.5,0.0 L-23.3,23.3 Z" fill="#fff" stroke="#1a1a1a" stroke-width="0.7"/><path d="M0,0 L-7.5,0.0 L-23.3,-23.3 Z" fill="#1a1a1a" stroke="#1a1a1a" stroke-width="0.7"/><path d="M0,0 L-0.0,-7.5 L-23.3,-23.3 Z" fill="#fff" stroke="#1a1a1a" stroke-width="0.7"/>
<path d="M0,0 L-5.7,-5.7 L0.0,-43.0 Z" fill="#111" stroke="#1a1a1a" stroke-width="0.7"/><path d="M0,0 L5.7,-5.7 L0.0,-43.0 Z" fill="#fff" stroke="#1a1a1a" stroke-width="0.7"/><path d="M0,0 L5.7,-5.7 L43.0,-0.0 Z" fill="#111" stroke="#1a1a1a" stroke-width="0.7"/><path d="M0,0 L5.7,5.7 L43.0,-0.0 Z" fill="#fff" stroke="#1a1a1a" stroke-width="0.7"/><path d="M0,0 L5.7,5.7 L0.0,43.0 Z" fill="#111" stroke="#1a1a1a" stroke-width="0.7"/><path d="M0,0 L-5.7,5.7 L0.0,43.0 Z" fill="#fff" stroke="#1a1a1a" stroke-width="0.7"/><path d="M0,0 L-5.7,5.7 L-43.0,0.0 Z" fill="#111" stroke="#1a1a1a" stroke-width="0.7"/><path d="M0,0 L-5.7,-5.7 L-43.0,0.0 Z" fill="#fff" stroke="#1a1a1a" stroke-width="0.7"/>
<text x="0" y="-42" font-size="23" font-family="'Liberation Serif', serif" text-anchor="middle" fill="#111" stroke="#fff" stroke-width="6" paint-order="stroke" stroke-linejoin="round">N</text>
<text x="0" y="58" font-size="23" font-family="'Liberation Serif', serif" text-anchor="middle" fill="#111" stroke="#fff" stroke-width="6" paint-order="stroke" stroke-linejoin="round">S</text>
<text x="-60" y="8" font-size="23" font-family="'Liberation Serif', serif" text-anchor="middle" fill="#111" stroke="#fff" stroke-width="6" paint-order="stroke" stroke-linejoin="round">W</text>
<text x="58" y="8" font-size="23" font-family="'Liberation Serif', serif" text-anchor="middle" fill="#111" stroke="#fff" stroke-width="6" paint-order="stroke" stroke-linejoin="round">E</text>
</g>
<rect x="2914" y="1523" width="677" height="447" fill="#6d6d60"/>
<rect x="2918.5" y="1519.5" width="675" height="446" fill="#fff" stroke="#111" stroke-width="2.6"/>
<text x="2933.6" y="1559.5" font-size="34.5" font-weight="bold" fill="#111" textLength="295" lengthAdjust="spacingAndGlyphs">CONVENCIONES</text>
<text x="2933.6" y="1611.2" font-size="29.6" font-weight="bold" fill="#111" textLength="304.5" lengthAdjust="spacingAndGlyphs">PUNTO, ESTACION</text>
<ellipse cx="2972.3" cy="1654.7" rx="32" ry="26" fill="#00c1f7"/>
<text x="3028" y="1667.6" font-size="25.5" fill="#222" textLength="548" lengthAdjust="spacingAndGlyphs">1, Centro Cultural Daniel Mantilla Orbegozo</text>
<ellipse cx="2972.3" cy="1728" rx="32" ry="26" fill="#00c1f7"/>
<text x="3028" y="1741" font-size="25.5" fill="#222" textLength="318" lengthAdjust="spacingAndGlyphs">2, Club Unión - Cabecera</text>
<ellipse cx="2972.3" cy="1801.5" rx="32" ry="26" fill="#00c1f7"/>
<text x="3028" y="1814.4" font-size="25.5" fill="#222" textLength="217" lengthAdjust="spacingAndGlyphs">3, Colegio Gaitán</text>
<ellipse cx="2972.3" cy="1874.2" rx="32" ry="26" fill="#00c1f7"/>
<text x="3028" y="1887.2" font-size="25.5" fill="#222" textLength="255" lengthAdjust="spacingAndGlyphs">4, Hospital del Norte</text>
<rect x="2933" y="1923.5" width="81" height="30" fill="#fff" stroke="#3f8f2b" stroke-width="5"/>
<path d="M2950,1921 h12 M2990,1956 h12 M2931,1940 v8 M3016,1928 v8" stroke="#fff" stroke-width="2.4" fill="none"/>
<text x="3028" y="1945.6" font-size="25.5" fill="#222" textLength="202.6" lengthAdjust="spacingAndGlyphs">Límite Municipal</text>
</svg>
</body></html>
